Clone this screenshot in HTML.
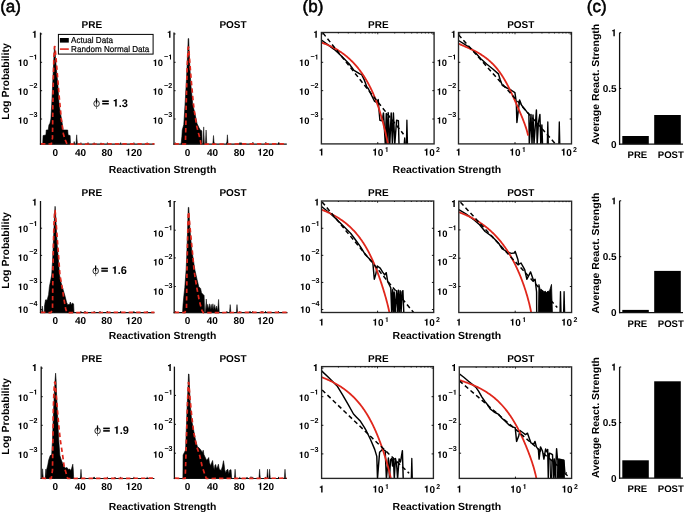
<!DOCTYPE html>
<html><head><meta charset="utf-8"><title>Reactivation Strength</title>
<style>
html,body{margin:0;padding:0;background:#fff;width:685px;height:512px;overflow:hidden}
svg{display:block;will-change:transform}
text{font-family:"Liberation Sans",sans-serif;fill:#000}
</style></head><body>
<svg width="685" height="512" viewBox="0 0 685 512" text-rendering="geometricPrecision">
<rect width="685" height="512" fill="#fff"/>
<text x="0.20" y="12.10" font-size="17.0" font-weight="normal" text-anchor="start" stroke="#000" stroke-width="0.55">(a)</text>
<text x="302.60" y="12.10" font-size="17.0" font-weight="normal" text-anchor="start" stroke="#000" stroke-width="0.55">(b)</text>
<text x="586.80" y="12.10" font-size="17.0" font-weight="normal" text-anchor="start" stroke="#000" stroke-width="0.55">(c)</text>
<text x="91.90" y="28.00" font-size="10" font-weight="bold" text-anchor="middle" >PRE</text>
<text x="233.00" y="28.00" font-size="10" font-weight="bold" text-anchor="middle" >POST</text>
<text x="378.30" y="28.00" font-size="10" font-weight="bold" text-anchor="middle" >PRE</text>
<text x="520.80" y="28.00" font-size="10" font-weight="bold" text-anchor="middle" >POST</text>
<text x="91.90" y="195.60" font-size="10" font-weight="bold" text-anchor="middle" >PRE</text>
<text x="233.00" y="195.60" font-size="10" font-weight="bold" text-anchor="middle" >POST</text>
<text x="378.30" y="195.60" font-size="10" font-weight="bold" text-anchor="middle" >PRE</text>
<text x="520.80" y="195.60" font-size="10" font-weight="bold" text-anchor="middle" >POST</text>
<text x="91.90" y="362.40" font-size="10" font-weight="bold" text-anchor="middle" >PRE</text>
<text x="233.00" y="362.40" font-size="10" font-weight="bold" text-anchor="middle" >POST</text>
<text x="378.30" y="362.40" font-size="10" font-weight="bold" text-anchor="middle" >PRE</text>
<text x="520.80" y="362.40" font-size="10" font-weight="bold" text-anchor="middle" >POST</text>
<text x="108.7" y="173.0" font-size="10.3" font-weight="bold" textLength="107.6" lengthAdjust="spacingAndGlyphs">Reactivation Strength</text>
<text x="392.6" y="173.0" font-size="10.3" font-weight="bold" textLength="108.6" lengthAdjust="spacingAndGlyphs">Reactivation Strength</text>
<text x="108.7" y="338.5" font-size="10.3" font-weight="bold" textLength="107.6" lengthAdjust="spacingAndGlyphs">Reactivation Strength</text>
<text x="392.6" y="338.5" font-size="10.3" font-weight="bold" textLength="108.6" lengthAdjust="spacingAndGlyphs">Reactivation Strength</text>
<text x="108.7" y="509.6" font-size="10.3" font-weight="bold" textLength="107.6" lengthAdjust="spacingAndGlyphs">Reactivation Strength</text>
<text x="392.6" y="509.6" font-size="10.3" font-weight="bold" textLength="108.6" lengthAdjust="spacingAndGlyphs">Reactivation Strength</text>
<text transform="translate(9.4,81.5) rotate(-90)" font-size="10.4" font-weight="bold" text-anchor="middle" textLength="76.5" lengthAdjust="spacingAndGlyphs">Log Probability</text>
<text transform="translate(598.8,84.3) rotate(-90)" font-size="10.2" font-weight="bold" text-anchor="middle" textLength="121" lengthAdjust="spacingAndGlyphs">Average React. Strength</text>
<text transform="translate(9.4,250.5) rotate(-90)" font-size="10.4" font-weight="bold" text-anchor="middle" textLength="76.5" lengthAdjust="spacingAndGlyphs">Log Probability</text>
<text transform="translate(598.8,253.0) rotate(-90)" font-size="10.2" font-weight="bold" text-anchor="middle" textLength="121" lengthAdjust="spacingAndGlyphs">Average React. Strength</text>
<text transform="translate(9.4,416.5) rotate(-90)" font-size="10.4" font-weight="bold" text-anchor="middle" textLength="76.5" lengthAdjust="spacingAndGlyphs">Log Probability</text>
<text transform="translate(598.8,417.5) rotate(-90)" font-size="10.2" font-weight="bold" text-anchor="middle" textLength="121" lengthAdjust="spacingAndGlyphs">Average React. Strength</text>
<ellipse cx="96.60" cy="103.60" rx="2.75" ry="2.95" fill="none" stroke="#222" stroke-width="0.95"/>
<line x1="96.50" y1="98.20" x2="96.50" y2="103.70" stroke="#000" stroke-width="1.25" />
<line x1="96.50" y1="103.70" x2="96.50" y2="108.90" stroke="#555" stroke-width="0.8" />
<rect x="102.20" y="100.40" width="6.6" height="1.6" fill="#000"/>
<rect x="102.20" y="102.90" width="6.6" height="1.6" fill="#000"/>
<path d="M770,0 L770,1409 L580,1409 C550,1300 490,1240 390,1210 C320,1190 250,1185 190,1185 L190,995 L478,995 L478,0 Z" transform="translate(112.60,106.50) scale(0.00537,-0.00537)" fill="#000"/>
<text x="118.72" y="106.50" font-size="11" font-weight="bold">.3</text>
<ellipse cx="95.70" cy="270.90" rx="2.75" ry="2.95" fill="none" stroke="#222" stroke-width="0.95"/>
<line x1="95.60" y1="265.50" x2="95.60" y2="271.00" stroke="#000" stroke-width="1.25" />
<line x1="95.60" y1="271.00" x2="95.60" y2="276.20" stroke="#555" stroke-width="0.8" />
<rect x="101.30" y="267.70" width="6.6" height="1.6" fill="#000"/>
<rect x="101.30" y="270.20" width="6.6" height="1.6" fill="#000"/>
<path d="M770,0 L770,1409 L580,1409 C550,1300 490,1240 390,1210 C320,1190 250,1185 190,1185 L190,995 L478,995 L478,0 Z" transform="translate(111.70,273.80) scale(0.00537,-0.00537)" fill="#000"/>
<text x="117.82" y="273.80" font-size="11" font-weight="bold">.6</text>
<ellipse cx="97.60" cy="430.80" rx="2.75" ry="2.95" fill="none" stroke="#222" stroke-width="0.95"/>
<line x1="97.50" y1="425.40" x2="97.50" y2="430.90" stroke="#000" stroke-width="1.25" />
<line x1="97.50" y1="430.90" x2="97.50" y2="436.10" stroke="#555" stroke-width="0.8" />
<rect x="103.20" y="427.60" width="6.6" height="1.6" fill="#000"/>
<rect x="103.20" y="430.10" width="6.6" height="1.6" fill="#000"/>
<path d="M770,0 L770,1409 L580,1409 C550,1300 490,1240 390,1210 C320,1190 250,1185 190,1185 L190,995 L478,995 L478,0 Z" transform="translate(113.60,433.70) scale(0.00537,-0.00537)" fill="#000"/>
<text x="119.72" y="433.70" font-size="11" font-weight="bold">.9</text>
<path d="M42.70,144.10 L43.10,135.50 L45.90,135.00 L46.25,130.00 L48.20,130.00 L49.00,124.50 L49.80,124.10 L50.90,119.00 L51.70,105.00 L52.50,88.00 L53.30,70.00 L54.00,55.00 L54.60,46.50 L55.30,55.00 L56.30,68.00 L57.90,85.00 L59.10,105.00 L60.70,114.40 L62.30,123.75 L63.00,130.00 L67.70,130.00 L68.10,135.00 L70.10,135.50 L70.50,144.10 Z" fill="#000" stroke="#000" stroke-width="0.6" stroke-linejoin="round" />
<path d="M76.00,144.10 L76.70,134.80 L77.40,144.10 Z" fill="#000" stroke="#000" stroke-width="0.5" stroke-linejoin="round" />
<path d="M73.50,144.10 L74.20,141.50 L74.90,144.10 Z" fill="#000" stroke="#000" stroke-width="0.5" stroke-linejoin="round" />
<path d="M87.30,144.10 L88.00,142.50 L88.70,144.10 Z" fill="#000" stroke="#000" stroke-width="0.5" stroke-linejoin="round" />
<path d="M100.30,144.10 L101.00,142.80 L101.70,144.10 Z" fill="#000" stroke="#000" stroke-width="0.5" stroke-linejoin="round" />
<line x1="40.50" y1="32.60" x2="40.50" y2="144.70" stroke="#111" stroke-width="1.3" />
<line x1="39.90" y1="144.10" x2="154.40" y2="144.10" stroke="#111" stroke-width="1.2" />
<line x1="40.50" y1="33.95" x2="42.10" y2="33.95" stroke="#000" stroke-width="0.9" />
<path d="M770,0 L770,1409 L580,1409 C550,1300 490,1240 390,1210 C320,1190 250,1185 190,1185 L190,995 L478,995 L478,0 Z" transform="translate(31.84,37.70) scale(0.00488,-0.00488)" fill="#000"/>
<line x1="40.50" y1="62.30" x2="42.10" y2="62.30" stroke="#000" stroke-width="0.9" />
<text x="29.19" y="59.45" font-size="7.2" font-weight="bold">&#8722;</text>
<path d="M770,0 L770,1409 L580,1409 C550,1300 490,1240 390,1210 C320,1190 250,1185 190,1185 L190,995 L478,995 L478,0 Z" transform="translate(33.40,59.45) scale(0.00352,-0.00352)" fill="#000"/>
<path d="M770,0 L770,1409 L580,1409 C550,1300 490,1240 390,1210 C320,1190 250,1185 190,1185 L190,995 L478,995 L478,0 Z" transform="translate(17.74,65.90) scale(0.00459,-0.00459)" fill="#000"/>
<text x="22.97" y="65.90" font-size="9.4" font-weight="bold">0</text>
<line x1="40.50" y1="90.70" x2="42.10" y2="90.70" stroke="#000" stroke-width="0.9" />
<text x="37.40" y="88.35" font-size="7.2" font-weight="bold" text-anchor="end" >&#8722;2</text>
<path d="M770,0 L770,1409 L580,1409 C550,1300 490,1240 390,1210 C320,1190 250,1185 190,1185 L190,995 L478,995 L478,0 Z" transform="translate(17.74,94.80) scale(0.00459,-0.00459)" fill="#000"/>
<text x="22.97" y="94.80" font-size="9.4" font-weight="bold">0</text>
<line x1="40.50" y1="119.00" x2="42.10" y2="119.00" stroke="#000" stroke-width="0.9" />
<text x="37.40" y="117.15" font-size="7.2" font-weight="bold" text-anchor="end" >&#8722;3</text>
<path d="M770,0 L770,1409 L580,1409 C550,1300 490,1240 390,1210 C320,1190 250,1185 190,1185 L190,995 L478,995 L478,0 Z" transform="translate(17.74,123.60) scale(0.00459,-0.00459)" fill="#000"/>
<text x="22.97" y="123.60" font-size="9.4" font-weight="bold">0</text>
<line x1="54.40" y1="144.10" x2="54.40" y2="142.50" stroke="#000" stroke-width="0.9" />
<line x1="67.65" y1="144.10" x2="67.65" y2="142.50" stroke="#000" stroke-width="0.9" />
<line x1="80.90" y1="144.10" x2="80.90" y2="142.50" stroke="#000" stroke-width="0.9" />
<line x1="94.15" y1="144.10" x2="94.15" y2="142.50" stroke="#000" stroke-width="0.9" />
<line x1="107.40" y1="144.10" x2="107.40" y2="142.50" stroke="#000" stroke-width="0.9" />
<line x1="120.65" y1="144.10" x2="120.65" y2="142.50" stroke="#000" stroke-width="0.9" />
<line x1="133.90" y1="144.10" x2="133.90" y2="142.50" stroke="#000" stroke-width="0.9" />
<line x1="147.15" y1="144.10" x2="147.15" y2="142.50" stroke="#000" stroke-width="0.9" />
<text x="55.20" y="155.60" font-size="10" font-weight="bold" text-anchor="middle" >0</text>
<text x="80.50" y="155.60" font-size="10" font-weight="bold" text-anchor="middle" >40</text>
<text x="107.00" y="155.60" font-size="10" font-weight="bold" text-anchor="middle" >80</text>
<path d="M770,0 L770,1409 L580,1409 C550,1300 490,1240 390,1210 C320,1190 250,1185 190,1185 L190,995 L478,995 L478,0 Z" transform="translate(125.46,155.60) scale(0.00488,-0.00488)" fill="#000"/>
<text x="131.02" y="155.60" font-size="10" font-weight="bold">20</text>
<path d="M41.00,143.80 L51.30,144.10 L52.50,137.80 L52.90,105.00 L53.30,80.00 L53.80,60.00 L54.50,46.50 L54.90,46.50 L56.20,60.00 L57.80,80.00 L59.30,98.00 L60.30,108.10 L61.10,117.50 L62.30,126.10 L63.40,133.90 L65.00,139.40 L67.00,144.10 L154.40,143.80" fill="none" stroke="#e0271c" stroke-width="1.7" stroke-dasharray="4.4 3.1" stroke-linejoin="round" />
<path d="M181.10,144.10 L181.90,136.25 L182.25,130.00 L183.80,124.50 L185.00,105.00 L186.00,88.00 L187.00,68.00 L187.80,50.00 L188.20,38.60 L188.70,38.60 L189.10,50.00 L189.80,66.00 L190.90,85.00 L192.80,105.00 L194.75,112.80 L197.10,123.75 L199.00,127.70 L200.20,130.00 L201.80,130.80 L202.20,144.10 Z" fill="#000" stroke="#000" stroke-width="0.6" stroke-linejoin="round" />
<path d="M203.00,144.10 L203.70,126.90 L204.40,144.10 Z" fill="#000" stroke="#000" stroke-width="0.5" stroke-linejoin="round" />
<path d="M205.40,144.10 L206.10,130.00 L206.80,144.10 Z" fill="#000" stroke="#000" stroke-width="0.5" stroke-linejoin="round" />
<path d="M212.80,144.10 L213.50,135.50 L214.20,144.10 Z" fill="#000" stroke="#000" stroke-width="0.5" stroke-linejoin="round" />
<path d="M226.70,144.10 L227.40,134.80 L228.10,144.10 Z" fill="#000" stroke="#000" stroke-width="0.5" stroke-linejoin="round" />
<path d="M240.30,144.10 L241.00,142.50 L241.70,144.10 Z" fill="#000" stroke="#000" stroke-width="0.5" stroke-linejoin="round" />
<path d="M252.30,144.10 L253.00,142.50 L253.70,144.10 Z" fill="#000" stroke="#000" stroke-width="0.5" stroke-linejoin="round" />
<path d="M265.30,144.10 L266.00,142.60 L266.70,144.10 Z" fill="#000" stroke="#000" stroke-width="0.5" stroke-linejoin="round" />
<path d="M278.30,144.10 L279.00,142.60 L279.70,144.10 Z" fill="#000" stroke="#000" stroke-width="0.5" stroke-linejoin="round" />
<line x1="174.00" y1="32.60" x2="174.00" y2="144.70" stroke="#111" stroke-width="1.3" />
<line x1="173.40" y1="144.10" x2="286.80" y2="144.10" stroke="#111" stroke-width="1.2" />
<line x1="174.00" y1="33.95" x2="175.60" y2="33.95" stroke="#000" stroke-width="0.9" />
<path d="M770,0 L770,1409 L580,1409 C550,1300 490,1240 390,1210 C320,1190 250,1185 190,1185 L190,995 L478,995 L478,0 Z" transform="translate(166.74,37.70) scale(0.00488,-0.00488)" fill="#000"/>
<line x1="174.00" y1="62.30" x2="175.60" y2="62.30" stroke="#000" stroke-width="0.9" />
<text x="164.09" y="59.45" font-size="7.2" font-weight="bold">&#8722;</text>
<path d="M770,0 L770,1409 L580,1409 C550,1300 490,1240 390,1210 C320,1190 250,1185 190,1185 L190,995 L478,995 L478,0 Z" transform="translate(168.30,59.45) scale(0.00352,-0.00352)" fill="#000"/>
<path d="M770,0 L770,1409 L580,1409 C550,1300 490,1240 390,1210 C320,1190 250,1185 190,1185 L190,995 L478,995 L478,0 Z" transform="translate(152.64,65.90) scale(0.00459,-0.00459)" fill="#000"/>
<text x="157.87" y="65.90" font-size="9.4" font-weight="bold">0</text>
<line x1="174.00" y1="90.70" x2="175.60" y2="90.70" stroke="#000" stroke-width="0.9" />
<text x="172.30" y="88.35" font-size="7.2" font-weight="bold" text-anchor="end" >&#8722;2</text>
<path d="M770,0 L770,1409 L580,1409 C550,1300 490,1240 390,1210 C320,1190 250,1185 190,1185 L190,995 L478,995 L478,0 Z" transform="translate(152.64,94.80) scale(0.00459,-0.00459)" fill="#000"/>
<text x="157.87" y="94.80" font-size="9.4" font-weight="bold">0</text>
<line x1="174.00" y1="119.00" x2="175.60" y2="119.00" stroke="#000" stroke-width="0.9" />
<text x="172.30" y="117.15" font-size="7.2" font-weight="bold" text-anchor="end" >&#8722;3</text>
<path d="M770,0 L770,1409 L580,1409 C550,1300 490,1240 390,1210 C320,1190 250,1185 190,1185 L190,995 L478,995 L478,0 Z" transform="translate(152.64,123.60) scale(0.00459,-0.00459)" fill="#000"/>
<text x="157.87" y="123.60" font-size="9.4" font-weight="bold">0</text>
<line x1="175.30" y1="144.10" x2="175.30" y2="142.50" stroke="#000" stroke-width="0.9" />
<line x1="188.20" y1="144.10" x2="188.20" y2="142.50" stroke="#000" stroke-width="0.9" />
<line x1="201.10" y1="144.10" x2="201.10" y2="142.50" stroke="#000" stroke-width="0.9" />
<line x1="214.00" y1="144.10" x2="214.00" y2="142.50" stroke="#000" stroke-width="0.9" />
<line x1="226.90" y1="144.10" x2="226.90" y2="142.50" stroke="#000" stroke-width="0.9" />
<line x1="239.80" y1="144.10" x2="239.80" y2="142.50" stroke="#000" stroke-width="0.9" />
<line x1="252.70" y1="144.10" x2="252.70" y2="142.50" stroke="#000" stroke-width="0.9" />
<line x1="265.60" y1="144.10" x2="265.60" y2="142.50" stroke="#000" stroke-width="0.9" />
<line x1="278.50" y1="144.10" x2="278.50" y2="142.50" stroke="#000" stroke-width="0.9" />
<text x="187.60" y="155.60" font-size="10" font-weight="bold" text-anchor="middle" >0</text>
<text x="212.60" y="155.60" font-size="10" font-weight="bold" text-anchor="middle" >40</text>
<text x="239.20" y="155.60" font-size="10" font-weight="bold" text-anchor="middle" >80</text>
<path d="M770,0 L770,1409 L580,1409 C550,1300 490,1240 390,1210 C320,1190 250,1185 190,1185 L190,995 L478,995 L478,0 Z" transform="translate(257.26,155.60) scale(0.00488,-0.00488)" fill="#000"/>
<text x="262.82" y="155.60" font-size="10" font-weight="bold">20</text>
<path d="M174.50,143.80 L185.40,144.10 L185.80,128.40 L186.20,105.00 L186.70,85.00 L187.30,65.00 L188.20,47.00 L188.60,47.00 L189.80,62.00 L191.20,80.00 L192.80,98.00 L194.00,108.90 L195.50,118.30 L196.70,126.10 L198.70,133.90 L200.20,139.40 L201.00,144.10 L286.80,143.80" fill="none" stroke="#e0271c" stroke-width="1.7" stroke-dasharray="4.4 3.1" stroke-linejoin="round" />
<path d="M44.30,312.60 L44.50,306.00 L44.70,304.70 L45.50,300.00 L46.20,299.60 L46.60,301.00 L47.40,299.20 L48.60,294.50 L49.40,286.70 L50.20,282.80 L51.70,275.00 L52.60,260.00 L53.30,245.00 L53.90,230.00 L54.50,216.00 L55.10,206.30 L55.70,216.00 L56.40,230.00 L57.20,245.00 L58.30,258.00 L59.50,275.00 L61.10,282.80 L63.40,290.60 L65.00,296.10 L66.60,302.30 L67.70,304.70 L69.70,304.30 L70.30,302.00 L71.25,304.70 L72.50,303.00 L73.60,303.90 L74.00,312.60 Z" fill="#000" stroke="#000" stroke-width="0.6" stroke-linejoin="round" />
<path d="M41.60,312.60 L42.30,306.00 L43.00,312.60 Z" fill="#000" stroke="#000" stroke-width="0.5" stroke-linejoin="round" />
<path d="M84.30,312.60 L85.00,311.00 L85.70,312.60 Z" fill="#000" stroke="#000" stroke-width="0.5" stroke-linejoin="round" />
<path d="M99.30,312.60 L100.00,311.20 L100.70,312.60 Z" fill="#000" stroke="#000" stroke-width="0.5" stroke-linejoin="round" />
<line x1="40.50" y1="201.00" x2="40.50" y2="313.20" stroke="#111" stroke-width="1.3" />
<line x1="39.90" y1="312.60" x2="154.40" y2="312.60" stroke="#111" stroke-width="1.2" />
<path d="M770,0 L770,1409 L580,1409 C550,1300 490,1240 390,1210 C320,1190 250,1185 190,1185 L190,995 L478,995 L478,0 Z" transform="translate(31.84,205.60) scale(0.00488,-0.00488)" fill="#000"/>
<line x1="40.50" y1="228.20" x2="42.10" y2="228.20" stroke="#000" stroke-width="0.9" />
<text x="29.19" y="225.95" font-size="7.2" font-weight="bold">&#8722;</text>
<path d="M770,0 L770,1409 L580,1409 C550,1300 490,1240 390,1210 C320,1190 250,1185 190,1185 L190,995 L478,995 L478,0 Z" transform="translate(33.40,225.95) scale(0.00352,-0.00352)" fill="#000"/>
<path d="M770,0 L770,1409 L580,1409 C550,1300 490,1240 390,1210 C320,1190 250,1185 190,1185 L190,995 L478,995 L478,0 Z" transform="translate(17.74,232.40) scale(0.00459,-0.00459)" fill="#000"/>
<text x="22.97" y="232.40" font-size="9.4" font-weight="bold">0</text>
<line x1="40.50" y1="255.40" x2="42.10" y2="255.40" stroke="#000" stroke-width="0.9" />
<text x="37.40" y="254.25" font-size="7.2" font-weight="bold" text-anchor="end" >&#8722;2</text>
<path d="M770,0 L770,1409 L580,1409 C550,1300 490,1240 390,1210 C320,1190 250,1185 190,1185 L190,995 L478,995 L478,0 Z" transform="translate(17.74,260.70) scale(0.00459,-0.00459)" fill="#000"/>
<text x="22.97" y="260.70" font-size="9.4" font-weight="bold">0</text>
<line x1="40.50" y1="282.40" x2="42.10" y2="282.40" stroke="#000" stroke-width="0.9" />
<text x="37.40" y="283.45" font-size="7.2" font-weight="bold" text-anchor="end" >&#8722;3</text>
<path d="M770,0 L770,1409 L580,1409 C550,1300 490,1240 390,1210 C320,1190 250,1185 190,1185 L190,995 L478,995 L478,0 Z" transform="translate(17.74,289.90) scale(0.00459,-0.00459)" fill="#000"/>
<text x="22.97" y="289.90" font-size="9.4" font-weight="bold">0</text>
<line x1="40.50" y1="309.50" x2="42.10" y2="309.50" stroke="#000" stroke-width="0.9" />
<text x="37.40" y="306.35" font-size="7.2" font-weight="bold" text-anchor="end" >&#8722;4</text>
<path d="M770,0 L770,1409 L580,1409 C550,1300 490,1240 390,1210 C320,1190 250,1185 190,1185 L190,995 L478,995 L478,0 Z" transform="translate(17.74,312.80) scale(0.00459,-0.00459)" fill="#000"/>
<text x="22.97" y="312.80" font-size="9.4" font-weight="bold">0</text>
<line x1="54.40" y1="312.60" x2="54.40" y2="311.00" stroke="#000" stroke-width="0.9" />
<line x1="67.65" y1="312.60" x2="67.65" y2="311.00" stroke="#000" stroke-width="0.9" />
<line x1="80.90" y1="312.60" x2="80.90" y2="311.00" stroke="#000" stroke-width="0.9" />
<line x1="94.15" y1="312.60" x2="94.15" y2="311.00" stroke="#000" stroke-width="0.9" />
<line x1="107.40" y1="312.60" x2="107.40" y2="311.00" stroke="#000" stroke-width="0.9" />
<line x1="120.65" y1="312.60" x2="120.65" y2="311.00" stroke="#000" stroke-width="0.9" />
<line x1="133.90" y1="312.60" x2="133.90" y2="311.00" stroke="#000" stroke-width="0.9" />
<line x1="147.15" y1="312.60" x2="147.15" y2="311.00" stroke="#000" stroke-width="0.9" />
<text x="55.20" y="324.20" font-size="10" font-weight="bold" text-anchor="middle" >0</text>
<text x="80.50" y="324.20" font-size="10" font-weight="bold" text-anchor="middle" >40</text>
<text x="106.80" y="324.20" font-size="10" font-weight="bold" text-anchor="middle" >80</text>
<path d="M770,0 L770,1409 L580,1409 C550,1300 490,1240 390,1210 C320,1190 250,1185 190,1185 L190,995 L478,995 L478,0 Z" transform="translate(125.66,324.20) scale(0.00488,-0.00488)" fill="#000"/>
<text x="131.22" y="324.20" font-size="10" font-weight="bold">20</text>
<path d="M41.00,312.30 L50.90,312.60 L52.50,309.40 L52.90,275.00 L53.30,250.00 L53.80,230.00 L54.30,218.00 L54.70,210.50 L55.10,210.50 L56.20,224.00 L57.50,242.00 L58.70,258.00 L59.90,275.00 L62.30,288.30 L63.80,298.40 L65.80,309.40 L67.00,312.60 L154.40,312.30" fill="none" stroke="#e0271c" stroke-width="1.7" stroke-dasharray="4.4 3.1" stroke-linejoin="round" />
<path d="M182.60,312.60 L183.00,305.10 L183.90,295.50 L184.80,287.60 L186.10,270.00 L186.80,255.00 L187.30,240.00 L187.80,222.00 L188.30,207.40 L188.80,207.40 L189.20,216.00 L190.00,230.00 L191.80,250.00 L194.90,270.00 L197.10,279.70 L198.80,286.70 L200.60,288.50 L201.50,292.80 L204.10,295.50 L204.60,312.60 Z" fill="#000" stroke="#000" stroke-width="0.6" stroke-linejoin="round" />
<path d="M205.30,312.60 L206.30,299.00 L206.90,309.00 L207.60,304.30 L208.50,309.00 L209.40,303.80 L210.20,309.50 L211.10,304.30 L212.00,309.00 L212.90,303.80 L213.80,309.50 L214.70,304.70 L215.60,310.00 L216.60,306.00 L217.60,311.00 L218.60,299.40 L219.30,312.60 Z" fill="#000" stroke="#000" stroke-width="0.5" stroke-linejoin="round" />
<path d="M229.50,312.60 L230.20,304.60 L230.90,312.60 Z" fill="#000" stroke="#000" stroke-width="0.5" stroke-linejoin="round" />
<path d="M236.30,312.60 L237.00,304.60 L237.70,312.60 Z" fill="#000" stroke="#000" stroke-width="0.5" stroke-linejoin="round" />
<path d="M249.30,312.60 L250.00,311.00 L250.70,312.60 Z" fill="#000" stroke="#000" stroke-width="0.5" stroke-linejoin="round" />
<path d="M261.30,312.60 L262.00,311.00 L262.70,312.60 Z" fill="#000" stroke="#000" stroke-width="0.5" stroke-linejoin="round" />
<line x1="174.20" y1="201.00" x2="174.20" y2="313.20" stroke="#111" stroke-width="1.3" />
<line x1="173.60" y1="312.60" x2="287.50" y2="312.60" stroke="#111" stroke-width="1.2" />
<line x1="174.20" y1="201.60" x2="175.80" y2="201.60" stroke="#000" stroke-width="0.9" />
<path d="M770,0 L770,1409 L580,1409 C550,1300 490,1240 390,1210 C320,1190 250,1185 190,1185 L190,995 L478,995 L478,0 Z" transform="translate(167.04,207.00) scale(0.00488,-0.00488)" fill="#000"/>
<line x1="174.20" y1="230.20" x2="175.80" y2="230.20" stroke="#000" stroke-width="0.9" />
<text x="164.39" y="230.15" font-size="7.2" font-weight="bold">&#8722;</text>
<path d="M770,0 L770,1409 L580,1409 C550,1300 490,1240 390,1210 C320,1190 250,1185 190,1185 L190,995 L478,995 L478,0 Z" transform="translate(168.60,230.15) scale(0.00352,-0.00352)" fill="#000"/>
<path d="M770,0 L770,1409 L580,1409 C550,1300 490,1240 390,1210 C320,1190 250,1185 190,1185 L190,995 L478,995 L478,0 Z" transform="translate(152.94,236.60) scale(0.00459,-0.00459)" fill="#000"/>
<text x="158.17" y="236.60" font-size="9.4" font-weight="bold">0</text>
<line x1="174.20" y1="257.90" x2="175.80" y2="257.90" stroke="#000" stroke-width="0.9" />
<text x="172.60" y="258.95" font-size="7.2" font-weight="bold" text-anchor="end" >&#8722;2</text>
<path d="M770,0 L770,1409 L580,1409 C550,1300 490,1240 390,1210 C320,1190 250,1185 190,1185 L190,995 L478,995 L478,0 Z" transform="translate(152.94,265.40) scale(0.00459,-0.00459)" fill="#000"/>
<text x="158.17" y="265.40" font-size="9.4" font-weight="bold">0</text>
<line x1="174.20" y1="286.50" x2="175.80" y2="286.50" stroke="#000" stroke-width="0.9" />
<text x="172.60" y="288.25" font-size="7.2" font-weight="bold" text-anchor="end" >&#8722;3</text>
<path d="M770,0 L770,1409 L580,1409 C550,1300 490,1240 390,1210 C320,1190 250,1185 190,1185 L190,995 L478,995 L478,0 Z" transform="translate(152.94,294.70) scale(0.00459,-0.00459)" fill="#000"/>
<text x="158.17" y="294.70" font-size="9.4" font-weight="bold">0</text>
<line x1="175.30" y1="312.60" x2="175.30" y2="311.00" stroke="#000" stroke-width="0.9" />
<line x1="188.20" y1="312.60" x2="188.20" y2="311.00" stroke="#000" stroke-width="0.9" />
<line x1="201.10" y1="312.60" x2="201.10" y2="311.00" stroke="#000" stroke-width="0.9" />
<line x1="214.00" y1="312.60" x2="214.00" y2="311.00" stroke="#000" stroke-width="0.9" />
<line x1="226.90" y1="312.60" x2="226.90" y2="311.00" stroke="#000" stroke-width="0.9" />
<line x1="239.80" y1="312.60" x2="239.80" y2="311.00" stroke="#000" stroke-width="0.9" />
<line x1="252.70" y1="312.60" x2="252.70" y2="311.00" stroke="#000" stroke-width="0.9" />
<line x1="265.60" y1="312.60" x2="265.60" y2="311.00" stroke="#000" stroke-width="0.9" />
<line x1="278.50" y1="312.60" x2="278.50" y2="311.00" stroke="#000" stroke-width="0.9" />
<text x="187.50" y="324.20" font-size="10" font-weight="bold" text-anchor="middle" >0</text>
<text x="212.30" y="324.20" font-size="10" font-weight="bold" text-anchor="middle" >40</text>
<text x="239.00" y="324.20" font-size="10" font-weight="bold" text-anchor="middle" >80</text>
<path d="M770,0 L770,1409 L580,1409 C550,1300 490,1240 390,1210 C320,1190 250,1185 190,1185 L190,995 L478,995 L478,0 Z" transform="translate(257.06,324.20) scale(0.00488,-0.00488)" fill="#000"/>
<text x="262.62" y="324.20" font-size="10" font-weight="bold">20</text>
<path d="M174.70,312.30 L184.80,312.60 L186.50,308.70 L187.00,270.00 L187.40,250.00 L187.80,230.00 L188.30,212.00 L188.70,212.00 L189.80,225.00 L191.40,242.00 L193.00,258.00 L194.00,270.00 L195.30,278.80 L197.10,289.30 L199.30,300.80 L201.90,310.40 L203.20,312.60 L287.50,312.30" fill="none" stroke="#e0271c" stroke-width="1.7" stroke-dasharray="4.4 3.1" stroke-linejoin="round" />
<path d="M45.50,478.50 L46.25,474.40 L46.60,469.70 L47.80,465.00 L48.60,460.30 L50.20,455.60 L51.70,454.80 L52.50,440.00 L53.20,420.00 L53.80,405.00 L54.40,392.00 L55.10,380.00 L55.60,373.20 L56.10,380.00 L56.60,395.00 L57.30,410.00 L58.00,425.00 L58.75,440.00 L59.90,455.60 L61.30,460.00 L62.70,463.40 L63.80,466.60 L65.50,468.00 L67.00,467.50 L68.50,469.50 L69.70,469.00 L70.60,470.50 L71.60,468.50 L72.30,466.00 L72.80,464.20 L73.30,470.00 L73.60,476.70 L74.00,478.50 Z" fill="#000" stroke="#000" stroke-width="0.6" stroke-linejoin="round" />
<path d="M41.90,478.50 L42.60,468.80 L43.30,478.50 Z" fill="#000" stroke="#000" stroke-width="0.5" stroke-linejoin="round" />
<path d="M45.20,478.50 L45.90,469.00 L46.60,478.50 Z" fill="#000" stroke="#000" stroke-width="0.5" stroke-linejoin="round" />
<path d="M80.30,478.50 L81.00,469.30 L81.70,478.50 Z" fill="#000" stroke="#000" stroke-width="0.5" stroke-linejoin="round" />
<path d="M93.30,478.50 L94.00,477.00 L94.70,478.50 Z" fill="#000" stroke="#000" stroke-width="0.5" stroke-linejoin="round" />
<path d="M114.30,478.50 L115.00,477.00 L115.70,478.50 Z" fill="#000" stroke="#000" stroke-width="0.5" stroke-linejoin="round" />
<line x1="41.20" y1="366.60" x2="41.20" y2="479.10" stroke="#111" stroke-width="1.3" />
<line x1="40.60" y1="478.50" x2="154.40" y2="478.50" stroke="#111" stroke-width="1.2" />
<line x1="41.20" y1="368.10" x2="42.80" y2="368.10" stroke="#000" stroke-width="0.9" />
<path d="M770,0 L770,1409 L580,1409 C550,1300 490,1240 390,1210 C320,1190 250,1185 190,1185 L190,995 L478,995 L478,0 Z" transform="translate(31.84,371.00) scale(0.00488,-0.00488)" fill="#000"/>
<line x1="41.20" y1="396.70" x2="42.80" y2="396.70" stroke="#000" stroke-width="0.9" />
<text x="29.19" y="394.55" font-size="7.2" font-weight="bold">&#8722;</text>
<path d="M770,0 L770,1409 L580,1409 C550,1300 490,1240 390,1210 C320,1190 250,1185 190,1185 L190,995 L478,995 L478,0 Z" transform="translate(33.40,394.55) scale(0.00352,-0.00352)" fill="#000"/>
<path d="M770,0 L770,1409 L580,1409 C550,1300 490,1240 390,1210 C320,1190 250,1185 190,1185 L190,995 L478,995 L478,0 Z" transform="translate(17.74,401.00) scale(0.00459,-0.00459)" fill="#000"/>
<text x="22.97" y="401.00" font-size="9.4" font-weight="bold">0</text>
<line x1="41.20" y1="425.30" x2="42.80" y2="425.30" stroke="#000" stroke-width="0.9" />
<text x="37.40" y="422.85" font-size="7.2" font-weight="bold" text-anchor="end" >&#8722;2</text>
<path d="M770,0 L770,1409 L580,1409 C550,1300 490,1240 390,1210 C320,1190 250,1185 190,1185 L190,995 L478,995 L478,0 Z" transform="translate(17.74,429.30) scale(0.00459,-0.00459)" fill="#000"/>
<text x="22.97" y="429.30" font-size="9.4" font-weight="bold">0</text>
<line x1="41.20" y1="453.90" x2="42.80" y2="453.90" stroke="#000" stroke-width="0.9" />
<text x="37.40" y="451.65" font-size="7.2" font-weight="bold" text-anchor="end" >&#8722;3</text>
<path d="M770,0 L770,1409 L580,1409 C550,1300 490,1240 390,1210 C320,1190 250,1185 190,1185 L190,995 L478,995 L478,0 Z" transform="translate(17.74,458.10) scale(0.00459,-0.00459)" fill="#000"/>
<text x="22.97" y="458.10" font-size="9.4" font-weight="bold">0</text>
<line x1="54.40" y1="478.50" x2="54.40" y2="476.90" stroke="#000" stroke-width="0.9" />
<line x1="67.65" y1="478.50" x2="67.65" y2="476.90" stroke="#000" stroke-width="0.9" />
<line x1="80.90" y1="478.50" x2="80.90" y2="476.90" stroke="#000" stroke-width="0.9" />
<line x1="94.15" y1="478.50" x2="94.15" y2="476.90" stroke="#000" stroke-width="0.9" />
<line x1="107.40" y1="478.50" x2="107.40" y2="476.90" stroke="#000" stroke-width="0.9" />
<line x1="120.65" y1="478.50" x2="120.65" y2="476.90" stroke="#000" stroke-width="0.9" />
<line x1="133.90" y1="478.50" x2="133.90" y2="476.90" stroke="#000" stroke-width="0.9" />
<line x1="147.15" y1="478.50" x2="147.15" y2="476.90" stroke="#000" stroke-width="0.9" />
<text x="55.30" y="489.70" font-size="10" font-weight="bold" text-anchor="middle" >0</text>
<text x="80.30" y="489.70" font-size="10" font-weight="bold" text-anchor="middle" >40</text>
<text x="106.80" y="489.70" font-size="10" font-weight="bold" text-anchor="middle" >80</text>
<path d="M770,0 L770,1409 L580,1409 C550,1300 490,1240 390,1210 C320,1190 250,1185 190,1185 L190,995 L478,995 L478,0 Z" transform="translate(125.66,489.70) scale(0.00488,-0.00488)" fill="#000"/>
<text x="131.22" y="489.70" font-size="10" font-weight="bold">20</text>
<path d="M41.70,478.20 L51.30,478.50 L52.50,470.00 L52.90,440.00 L53.30,410.00 L53.90,392.00 L54.70,382.00 L55.10,382.00 L56.20,395.00 L57.60,412.00 L59.00,428.00 L60.30,440.00 L62.70,455.60 L64.20,466.60 L67.70,478.50 L154.40,478.20" fill="none" stroke="#e0271c" stroke-width="1.7" stroke-dasharray="4.4 3.1" stroke-linejoin="round" />
<path d="M182.90,478.50 L183.10,455.00 L184.20,452.80 L185.60,450.00 L186.30,430.00 L187.20,405.00 L187.90,390.00 L188.50,374.00 L189.00,374.00 L189.60,390.00 L190.30,405.00 L191.60,420.00 L193.90,431.50 L195.50,440.00 L197.40,446.40 L199.70,448.60 L201.50,451.00 L202.50,452.50 L203.20,450.20 L203.90,454.50 L205.50,458.00 L206.70,460.30 L207.80,459.00 L208.70,457.50 L209.40,462.50 L210.60,465.80 L211.60,463.00 L212.60,460.50 L213.30,466.00 L214.30,470.00 L215.00,465.00 L215.70,464.60 L216.50,468.50 L217.50,467.00 L218.40,464.20 L219.20,469.00 L220.00,469.70 L221.20,470.50 L222.50,466.00 L223.50,460.70 L224.30,466.00 L224.70,469.70 L225.80,473.00 L226.80,470.00 L227.80,469.30 L228.80,474.00 L229.80,470.00 L231.00,469.70 L231.70,478.50 Z" fill="#000" stroke="#000" stroke-width="0.6" stroke-linejoin="round" />
<path d="M234.40,478.50 L235.10,469.20 L235.80,478.50 Z" fill="#000" stroke="#000" stroke-width="0.5" stroke-linejoin="round" />
<path d="M258.90,478.50 L259.60,469.20 L260.30,478.50 Z" fill="#000" stroke="#000" stroke-width="0.5" stroke-linejoin="round" />
<path d="M266.80,478.50 L267.50,469.20 L268.20,478.50 Z" fill="#000" stroke="#000" stroke-width="0.5" stroke-linejoin="round" />
<path d="M268.90,478.50 L269.60,469.20 L270.30,478.50 Z" fill="#000" stroke="#000" stroke-width="0.5" stroke-linejoin="round" />
<path d="M284.30,478.50 L285.00,469.20 L285.70,478.50 Z" fill="#000" stroke="#000" stroke-width="0.5" stroke-linejoin="round" />
<path d="M246.30,478.50 L247.00,477.00 L247.70,478.50 Z" fill="#000" stroke="#000" stroke-width="0.5" stroke-linejoin="round" />
<path d="M250.30,478.50 L251.00,476.60 L251.70,478.50 Z" fill="#000" stroke="#000" stroke-width="0.5" stroke-linejoin="round" />
<line x1="174.40" y1="366.60" x2="174.40" y2="479.10" stroke="#111" stroke-width="1.3" />
<line x1="173.80" y1="478.50" x2="287.00" y2="478.50" stroke="#111" stroke-width="1.2" />
<path d="M770,0 L770,1409 L580,1409 C550,1300 490,1240 390,1210 C320,1190 250,1185 190,1185 L190,995 L478,995 L478,0 Z" transform="translate(167.04,371.00) scale(0.00488,-0.00488)" fill="#000"/>
<line x1="174.40" y1="395.40" x2="176.00" y2="395.40" stroke="#000" stroke-width="0.9" />
<text x="164.39" y="394.65" font-size="7.2" font-weight="bold">&#8722;</text>
<path d="M770,0 L770,1409 L580,1409 C550,1300 490,1240 390,1210 C320,1190 250,1185 190,1185 L190,995 L478,995 L478,0 Z" transform="translate(168.60,394.65) scale(0.00352,-0.00352)" fill="#000"/>
<path d="M770,0 L770,1409 L580,1409 C550,1300 490,1240 390,1210 C320,1190 250,1185 190,1185 L190,995 L478,995 L478,0 Z" transform="translate(152.94,401.10) scale(0.00459,-0.00459)" fill="#000"/>
<text x="158.17" y="401.10" font-size="9.4" font-weight="bold">0</text>
<line x1="174.40" y1="424.30" x2="176.00" y2="424.30" stroke="#000" stroke-width="0.9" />
<text x="172.60" y="423.05" font-size="7.2" font-weight="bold" text-anchor="end" >&#8722;2</text>
<path d="M770,0 L770,1409 L580,1409 C550,1300 490,1240 390,1210 C320,1190 250,1185 190,1185 L190,995 L478,995 L478,0 Z" transform="translate(152.94,429.50) scale(0.00459,-0.00459)" fill="#000"/>
<text x="158.17" y="429.50" font-size="9.4" font-weight="bold">0</text>
<line x1="174.40" y1="453.20" x2="176.00" y2="453.20" stroke="#000" stroke-width="0.9" />
<text x="172.60" y="451.25" font-size="7.2" font-weight="bold" text-anchor="end" >&#8722;3</text>
<path d="M770,0 L770,1409 L580,1409 C550,1300 490,1240 390,1210 C320,1190 250,1185 190,1185 L190,995 L478,995 L478,0 Z" transform="translate(152.94,457.70) scale(0.00459,-0.00459)" fill="#000"/>
<text x="158.17" y="457.70" font-size="9.4" font-weight="bold">0</text>
<line x1="188.20" y1="478.50" x2="188.20" y2="476.90" stroke="#000" stroke-width="0.9" />
<line x1="201.10" y1="478.50" x2="201.10" y2="476.90" stroke="#000" stroke-width="0.9" />
<line x1="214.00" y1="478.50" x2="214.00" y2="476.90" stroke="#000" stroke-width="0.9" />
<line x1="226.90" y1="478.50" x2="226.90" y2="476.90" stroke="#000" stroke-width="0.9" />
<line x1="239.80" y1="478.50" x2="239.80" y2="476.90" stroke="#000" stroke-width="0.9" />
<line x1="252.70" y1="478.50" x2="252.70" y2="476.90" stroke="#000" stroke-width="0.9" />
<line x1="265.60" y1="478.50" x2="265.60" y2="476.90" stroke="#000" stroke-width="0.9" />
<line x1="278.50" y1="478.50" x2="278.50" y2="476.90" stroke="#000" stroke-width="0.9" />
<text x="187.60" y="489.70" font-size="10" font-weight="bold" text-anchor="middle" >0</text>
<text x="212.50" y="489.70" font-size="10" font-weight="bold" text-anchor="middle" >40</text>
<text x="239.20" y="489.70" font-size="10" font-weight="bold" text-anchor="middle" >80</text>
<path d="M770,0 L770,1409 L580,1409 C550,1300 490,1240 390,1210 C320,1190 250,1185 190,1185 L190,995 L478,995 L478,0 Z" transform="translate(257.46,489.70) scale(0.00488,-0.00488)" fill="#000"/>
<text x="263.02" y="489.70" font-size="10" font-weight="bold">20</text>
<path d="M174.90,478.20 L185.20,478.50 L185.80,460.00 L186.40,440.00 L187.00,420.00 L187.60,400.00 L188.40,382.50 L188.80,382.50 L190.00,398.00 L191.60,415.00 L193.60,432.00 L196.60,446.25 L199.70,455.60 L202.00,465.80 L204.80,474.40 L206.30,478.50 L287.00,478.20" fill="none" stroke="#e0271c" stroke-width="1.7" stroke-dasharray="4.4 3.1" stroke-linejoin="round" />
<rect x="58.4" y="34.4" width="94.7" height="19.7" fill="#fff" stroke="#000" stroke-width="1"/>
<rect x="59.9" y="38.0" width="8.9" height="4.6" fill="#000"/>
<line x1="59.90" y1="49.10" x2="68.80" y2="49.10" stroke="#e0271c" stroke-width="1.6" />
<text x="71.1" y="43.3" font-size="8.6" font-weight="normal" stroke="#000" stroke-width="0.2" textLength="41.8" lengthAdjust="spacingAndGlyphs">Actual Data</text>
<text x="71.1" y="51.5" font-size="8.6" font-weight="normal" stroke="#000" stroke-width="0.2" textLength="78.2" lengthAdjust="spacingAndGlyphs">Random Normal Data</text>
<g>
<clipPath id="clipb282"><rect x="321.40" y="32.50" width="112.70" height="111.40"/></clipPath>
<g clip-path="url(#clipb282)">
<path d="M321.40,40.00 L327.00,44.10 L334.10,49.30 L338.75,53.40 L343.40,58.10 L349.30,64.00 L354.00,70.40 L359.80,73.90 L361.60,74.50 L364.50,80.40 L366.60,86.30 L368.50,89.00 L370.50,93.20 L374.60,101.40 L377.00,102.60 L378.20,99.60 L378.75,107.30 L379.90,120.20 L382.30,120.70 L383.40,113.10 L383.50,113.00 L385.30,143.90 L386.30,113.50 L387.40,143.90 L388.20,112.60 L389.80,143.90 L391.20,113.00 L392.40,143.90 L393.40,113.00 L394.80,143.90 L396.60,120.20 L398.40,120.70 L399.00,143.90" fill="none" stroke="#000" stroke-width="1.45" stroke-linejoin="round" />
<path d="M404.20,143.90 L404.70,137.80 L405.30,143.90" fill="none" stroke="#000" stroke-width="1.3" stroke-linejoin="round" />
<path d="M406.40,143.90 L406.90,120.20 L407.50,143.90" fill="none" stroke="#000" stroke-width="1.3" stroke-linejoin="round" />
<path d="M386.80,143.90 L387.60,122.00 L388.10,143.90" fill="none" stroke="#000" stroke-width="1.3" stroke-linejoin="round" />
<path d="M321.22,42.54 L322.20,42.86 L323.18,43.20 L324.15,43.54 L325.11,43.90 L326.06,44.27 L327.01,44.65 L327.95,45.04 L328.88,45.45 L329.81,45.86 L330.73,46.29 L331.64,46.73 L332.54,47.18 L333.44,47.64 L334.33,48.11 L335.21,48.60 L336.08,49.09 L336.95,49.60 L337.81,50.12 L338.66,50.65 L339.50,51.19 L340.34,51.74 L341.16,52.30 L341.98,52.87 L342.79,53.45 L343.59,54.05 L344.39,54.65 L345.17,55.27 L345.95,55.89 L346.72,56.53 L347.48,57.17 L348.24,57.83 L348.98,58.49 L349.72,59.16 L350.45,59.85 L351.17,60.54 L351.88,61.24 L352.58,61.95 L353.28,62.67 L353.96,63.40 L354.64,64.13 L355.31,64.88 L355.97,65.63 L356.62,66.39 L357.27,67.16 L357.90,67.94 L358.53,68.72 L359.15,69.51 L359.76,70.31 L360.37,71.12 L360.96,71.93 L361.55,72.75 L362.13,73.57 L362.70,74.40 L363.26,75.24 L363.82,76.08 L364.36,76.93 L364.90,77.79 L365.43,78.65 L365.96,79.51 L366.47,80.38 L366.98,81.25 L367.48,82.13 L367.97,83.02 L368.45,83.90 L368.93,84.80 L369.40,85.69 L369.86,86.59 L370.32,87.50 L370.77,88.40 L371.21,89.31 L371.64,90.23 L372.07,91.14 L372.49,92.06 L372.90,92.98 L373.31,93.91 L373.71,94.83 L374.10,95.76 L374.49,96.69 L374.87,97.63 L375.25,98.56 L375.61,99.50 L375.98,100.44 L376.33,101.38 L376.68,102.32 L377.03,103.27 L377.37,104.21 L377.70,105.16 L378.03,106.10 L378.35,107.05 L378.67,108.00 L378.98,108.95 L379.29,109.90 L379.59,110.85 L379.89,111.81 L380.19,112.76 L380.48,113.71 L380.76,114.67 L381.04,115.63 L381.32,116.58 L381.59,117.54 L381.86,118.50 L382.13,119.46 L382.39,120.42 L382.65,121.38 L382.91,122.34 L383.16,123.30 L383.41,124.26 L383.66,125.23 L383.90,126.20 L384.14,127.16 L384.38,128.13 L384.62,129.10 L384.86,130.07 L385.09,131.05 L385.32,132.02 L385.56,133.00 L385.79,133.98 L386.01,134.96 L386.24,135.95 L386.47,136.94 L386.70,137.93 L386.92,138.92 L387.15,139.92 L387.37,140.92 L387.60,141.93 L387.82,142.94 L388.05,143.95" fill="none" stroke="#e0271c" stroke-width="1.8" stroke-linejoin="round" />
<path d="M322.90,32.90 L403.50,134.20" fill="none" stroke="#000" stroke-width="1.5" stroke-dasharray="4.4 3.0" stroke-linejoin="round" />
</g>
<rect x="321.40" y="32.50" width="112.70" height="111.40" fill="none" stroke="#262626" stroke-width="1.35"/>
<line x1="338.36" y1="32.50" x2="338.36" y2="33.50" stroke="#000" stroke-width="0.8" />
<line x1="348.29" y1="32.50" x2="348.29" y2="33.50" stroke="#000" stroke-width="0.8" />
<line x1="355.33" y1="32.50" x2="355.33" y2="33.50" stroke="#000" stroke-width="0.8" />
<line x1="360.79" y1="32.50" x2="360.79" y2="33.50" stroke="#000" stroke-width="0.8" />
<line x1="365.25" y1="32.50" x2="365.25" y2="33.50" stroke="#000" stroke-width="0.8" />
<line x1="369.02" y1="32.50" x2="369.02" y2="33.50" stroke="#000" stroke-width="0.8" />
<line x1="372.29" y1="32.50" x2="372.29" y2="33.50" stroke="#000" stroke-width="0.8" />
<line x1="375.17" y1="32.50" x2="375.17" y2="33.50" stroke="#000" stroke-width="0.8" />
<line x1="377.75" y1="143.90" x2="377.75" y2="142.10" stroke="#000" stroke-width="0.9" />
<line x1="377.75" y1="32.50" x2="377.75" y2="34.30" stroke="#000" stroke-width="0.8" />
<line x1="394.71" y1="32.50" x2="394.71" y2="33.50" stroke="#000" stroke-width="0.8" />
<line x1="404.64" y1="32.50" x2="404.64" y2="33.50" stroke="#000" stroke-width="0.8" />
<line x1="411.68" y1="32.50" x2="411.68" y2="33.50" stroke="#000" stroke-width="0.8" />
<line x1="417.14" y1="32.50" x2="417.14" y2="33.50" stroke="#000" stroke-width="0.8" />
<line x1="421.60" y1="32.50" x2="421.60" y2="33.50" stroke="#000" stroke-width="0.8" />
<line x1="425.37" y1="32.50" x2="425.37" y2="33.50" stroke="#000" stroke-width="0.8" />
<line x1="428.64" y1="32.50" x2="428.64" y2="33.50" stroke="#000" stroke-width="0.8" />
<line x1="431.52" y1="32.50" x2="431.52" y2="33.50" stroke="#000" stroke-width="0.8" />
<line x1="321.40" y1="33.95" x2="323.20" y2="33.95" stroke="#000" stroke-width="0.9" />
<line x1="434.10" y1="33.95" x2="432.30" y2="33.95" stroke="#000" stroke-width="0.9" />
<line x1="321.40" y1="62.30" x2="323.20" y2="62.30" stroke="#000" stroke-width="0.9" />
<line x1="434.10" y1="62.30" x2="432.30" y2="62.30" stroke="#000" stroke-width="0.9" />
<line x1="321.40" y1="90.65" x2="323.20" y2="90.65" stroke="#000" stroke-width="0.9" />
<line x1="434.10" y1="90.65" x2="432.30" y2="90.65" stroke="#000" stroke-width="0.9" />
<line x1="321.40" y1="119.00" x2="323.20" y2="119.00" stroke="#000" stroke-width="0.9" />
<line x1="434.10" y1="119.00" x2="432.30" y2="119.00" stroke="#000" stroke-width="0.9" />
<path d="M770,0 L770,1409 L580,1409 C550,1300 490,1240 390,1210 C320,1190 250,1185 190,1185 L190,995 L478,995 L478,0 Z" transform="translate(313.04,37.70) scale(0.00488,-0.00488)" fill="#000"/>
<text x="310.39" y="59.45" font-size="7.2" font-weight="bold">&#8722;</text>
<path d="M770,0 L770,1409 L580,1409 C550,1300 490,1240 390,1210 C320,1190 250,1185 190,1185 L190,995 L478,995 L478,0 Z" transform="translate(314.60,59.45) scale(0.00352,-0.00352)" fill="#000"/>
<path d="M770,0 L770,1409 L580,1409 C550,1300 490,1240 390,1210 C320,1190 250,1185 190,1185 L190,995 L478,995 L478,0 Z" transform="translate(298.94,65.90) scale(0.00459,-0.00459)" fill="#000"/>
<text x="304.17" y="65.90" font-size="9.4" font-weight="bold">0</text>
<text x="318.60" y="88.35" font-size="7.2" font-weight="bold" text-anchor="end" >&#8722;2</text>
<path d="M770,0 L770,1409 L580,1409 C550,1300 490,1240 390,1210 C320,1190 250,1185 190,1185 L190,995 L478,995 L478,0 Z" transform="translate(298.94,94.80) scale(0.00459,-0.00459)" fill="#000"/>
<text x="304.17" y="94.80" font-size="9.4" font-weight="bold">0</text>
<text x="318.60" y="117.15" font-size="7.2" font-weight="bold" text-anchor="end" >&#8722;3</text>
<path d="M770,0 L770,1409 L580,1409 C550,1300 490,1240 390,1210 C320,1190 250,1185 190,1185 L190,995 L478,995 L478,0 Z" transform="translate(298.94,123.60) scale(0.00459,-0.00459)" fill="#000"/>
<text x="304.17" y="123.60" font-size="9.4" font-weight="bold">0</text>
<path d="M770,0 L770,1409 L580,1409 C550,1300 490,1240 390,1210 C320,1190 250,1185 190,1185 L190,995 L478,995 L478,0 Z" transform="translate(318.62,155.50) scale(0.00488,-0.00488)" fill="#000"/>
<path d="M770,0 L770,1409 L580,1409 C550,1300 490,1240 390,1210 C320,1190 250,1185 190,1185 L190,995 L478,995 L478,0 Z" transform="translate(372.24,155.50) scale(0.00488,-0.00488)" fill="#000"/>
<text x="377.80" y="155.50" font-size="10" font-weight="bold">0</text>
<path d="M770,0 L770,1409 L580,1409 C550,1300 490,1240 390,1210 C320,1190 250,1185 190,1185 L190,995 L478,995 L478,0 Z" transform="translate(384.80,151.90) scale(0.00342,-0.00342)" fill="#000"/>
<path d="M770,0 L770,1409 L580,1409 C550,1300 490,1240 390,1210 C320,1190 250,1185 190,1185 L190,995 L478,995 L478,0 Z" transform="translate(423.64,155.50) scale(0.00488,-0.00488)" fill="#000"/>
<text x="429.20" y="155.50" font-size="10" font-weight="bold">0</text>
<text x="436.00" y="151.90" font-size="7" font-weight="bold" text-anchor="start" >2</text>
</g>
<g>
<clipPath id="clipb338"><rect x="458.50" y="32.50" width="113.00" height="111.40"/></clipPath>
<g clip-path="url(#clipb338)">
<path d="M458.50,40.50 L464.40,44.10 L471.40,48.75 L476.10,53.40 L480.80,58.70 L486.60,64.00 L492.50,68.70 L498.40,73.90 L500.30,80.00 L502.30,85.30 L507.00,88.00 L511.00,90.00 L514.90,92.60 L515.60,97.30 L516.30,102.60 L516.90,122.50 L518.30,110.60 L519.60,99.90 L521.60,105.20 L526.90,111.90 L528.90,114.00 L529.30,143.90 L531.00,114.40 L532.00,143.90 L533.00,115.00 L534.00,143.90 L536.40,110.00 L537.20,143.90 L538.40,122.90 L539.90,114.40 L540.80,143.90 L541.90,124.90 L542.50,143.90" fill="none" stroke="#000" stroke-width="1.45" stroke-linejoin="round" />
<path d="M547.30,143.90 L547.80,121.90 L548.30,143.90" fill="none" stroke="#000" stroke-width="1.3" stroke-linejoin="round" />
<path d="M558.80,143.90 L559.30,121.90 L559.80,143.90" fill="none" stroke="#000" stroke-width="1.3" stroke-linejoin="round" />
<path d="M458.48,43.60 L459.36,44.01 L460.26,44.41 L461.16,44.81 L462.07,45.21 L462.98,45.61 L463.90,46.01 L464.83,46.41 L465.75,46.81 L466.68,47.22 L467.61,47.63 L468.54,48.04 L469.47,48.46 L470.40,48.89 L471.32,49.32 L472.24,49.76 L473.16,50.20 L474.07,50.66 L474.98,51.12 L475.88,51.59 L476.77,52.07 L477.66,52.57 L478.54,53.07 L479.42,53.58 L480.28,54.10 L481.14,54.63 L481.98,55.17 L482.82,55.73 L483.65,56.29 L484.47,56.87 L485.28,57.46 L486.08,58.06 L486.87,58.67 L487.64,59.29 L488.41,59.93 L489.17,60.57 L489.91,61.23 L490.65,61.90 L491.37,62.58 L492.08,63.27 L492.79,63.97 L493.48,64.68 L494.16,65.40 L494.83,66.14 L495.49,66.88 L496.14,67.64 L496.78,68.40 L497.40,69.17 L498.02,69.95 L498.63,70.75 L499.23,71.55 L499.82,72.36 L500.40,73.17 L500.97,74.00 L501.53,74.83 L502.08,75.67 L502.62,76.52 L503.16,77.37 L503.69,78.23 L504.21,79.10 L504.72,79.97 L505.23,80.85 L505.72,81.73 L506.22,82.62 L506.70,83.51 L507.18,84.40 L507.65,85.30 L508.12,86.20 L508.58,87.11 L509.04,88.02 L509.49,88.93 L509.94,89.84 L510.38,90.76 L510.82,91.67 L511.26,92.59 L511.69,93.51 L512.12,94.43 L512.54,95.35 L512.96,96.27 L513.38,97.20 L513.80,98.12 L514.21,99.04 L514.63,99.96 L515.04,100.88 L515.44,101.80 L515.85,102.72 L516.25,103.64 L516.65,104.56 L517.06,105.48 L517.45,106.39 L517.85,107.31 L518.25,108.22 L518.64,109.14 L519.03,110.05 L519.42,110.96 L519.81,111.88 L520.20,112.79 L520.58,113.70 L520.97,114.61 L521.35,115.53 L521.72,116.44 L522.10,117.35 L522.47,118.27 L522.84,119.19 L523.20,120.11 L523.56,121.03 L523.91,121.95 L524.27,122.88 L524.61,123.81 L524.95,124.75 L525.28,125.69 L525.61,126.64 L525.92,127.60 L526.23,128.56 L526.53,129.53 L526.82,130.51 L527.10,131.50 L527.37,132.50 L527.63,133.52 L527.87,134.54 L528.10,135.58" fill="none" stroke="#e0271c" stroke-width="1.8" stroke-linejoin="round" />
<path d="M458.50,34.70 L555.00,143.40" fill="none" stroke="#000" stroke-width="1.5" stroke-dasharray="4.4 3.0" stroke-linejoin="round" />
</g>
<rect x="458.50" y="32.50" width="113.00" height="111.40" fill="none" stroke="#262626" stroke-width="1.35"/>
<line x1="475.51" y1="32.50" x2="475.51" y2="33.50" stroke="#000" stroke-width="0.8" />
<line x1="485.46" y1="32.50" x2="485.46" y2="33.50" stroke="#000" stroke-width="0.8" />
<line x1="492.52" y1="32.50" x2="492.52" y2="33.50" stroke="#000" stroke-width="0.8" />
<line x1="497.99" y1="32.50" x2="497.99" y2="33.50" stroke="#000" stroke-width="0.8" />
<line x1="502.47" y1="32.50" x2="502.47" y2="33.50" stroke="#000" stroke-width="0.8" />
<line x1="506.25" y1="32.50" x2="506.25" y2="33.50" stroke="#000" stroke-width="0.8" />
<line x1="509.52" y1="32.50" x2="509.52" y2="33.50" stroke="#000" stroke-width="0.8" />
<line x1="512.41" y1="32.50" x2="512.41" y2="33.50" stroke="#000" stroke-width="0.8" />
<line x1="515.00" y1="143.90" x2="515.00" y2="142.10" stroke="#000" stroke-width="0.9" />
<line x1="515.00" y1="32.50" x2="515.00" y2="34.30" stroke="#000" stroke-width="0.8" />
<line x1="532.01" y1="32.50" x2="532.01" y2="33.50" stroke="#000" stroke-width="0.8" />
<line x1="541.96" y1="32.50" x2="541.96" y2="33.50" stroke="#000" stroke-width="0.8" />
<line x1="549.02" y1="32.50" x2="549.02" y2="33.50" stroke="#000" stroke-width="0.8" />
<line x1="554.49" y1="32.50" x2="554.49" y2="33.50" stroke="#000" stroke-width="0.8" />
<line x1="558.97" y1="32.50" x2="558.97" y2="33.50" stroke="#000" stroke-width="0.8" />
<line x1="562.75" y1="32.50" x2="562.75" y2="33.50" stroke="#000" stroke-width="0.8" />
<line x1="566.02" y1="32.50" x2="566.02" y2="33.50" stroke="#000" stroke-width="0.8" />
<line x1="568.91" y1="32.50" x2="568.91" y2="33.50" stroke="#000" stroke-width="0.8" />
<line x1="458.50" y1="33.95" x2="460.30" y2="33.95" stroke="#000" stroke-width="0.9" />
<line x1="571.50" y1="33.95" x2="569.70" y2="33.95" stroke="#000" stroke-width="0.9" />
<line x1="458.50" y1="62.30" x2="460.30" y2="62.30" stroke="#000" stroke-width="0.9" />
<line x1="571.50" y1="62.30" x2="569.70" y2="62.30" stroke="#000" stroke-width="0.9" />
<line x1="458.50" y1="90.65" x2="460.30" y2="90.65" stroke="#000" stroke-width="0.9" />
<line x1="571.50" y1="90.65" x2="569.70" y2="90.65" stroke="#000" stroke-width="0.9" />
<line x1="458.50" y1="119.00" x2="460.30" y2="119.00" stroke="#000" stroke-width="0.9" />
<line x1="571.50" y1="119.00" x2="569.70" y2="119.00" stroke="#000" stroke-width="0.9" />
<path d="M770,0 L770,1409 L580,1409 C550,1300 490,1240 390,1210 C320,1190 250,1185 190,1185 L190,995 L478,995 L478,0 Z" transform="translate(450.74,37.70) scale(0.00488,-0.00488)" fill="#000"/>
<text x="448.09" y="59.45" font-size="7.2" font-weight="bold">&#8722;</text>
<path d="M770,0 L770,1409 L580,1409 C550,1300 490,1240 390,1210 C320,1190 250,1185 190,1185 L190,995 L478,995 L478,0 Z" transform="translate(452.30,59.45) scale(0.00352,-0.00352)" fill="#000"/>
<path d="M770,0 L770,1409 L580,1409 C550,1300 490,1240 390,1210 C320,1190 250,1185 190,1185 L190,995 L478,995 L478,0 Z" transform="translate(436.64,65.90) scale(0.00459,-0.00459)" fill="#000"/>
<text x="441.87" y="65.90" font-size="9.4" font-weight="bold">0</text>
<text x="456.30" y="88.35" font-size="7.2" font-weight="bold" text-anchor="end" >&#8722;2</text>
<path d="M770,0 L770,1409 L580,1409 C550,1300 490,1240 390,1210 C320,1190 250,1185 190,1185 L190,995 L478,995 L478,0 Z" transform="translate(436.64,94.80) scale(0.00459,-0.00459)" fill="#000"/>
<text x="441.87" y="94.80" font-size="9.4" font-weight="bold">0</text>
<text x="456.30" y="117.15" font-size="7.2" font-weight="bold" text-anchor="end" >&#8722;3</text>
<path d="M770,0 L770,1409 L580,1409 C550,1300 490,1240 390,1210 C320,1190 250,1185 190,1185 L190,995 L478,995 L478,0 Z" transform="translate(436.64,123.60) scale(0.00459,-0.00459)" fill="#000"/>
<text x="441.87" y="123.60" font-size="9.4" font-weight="bold">0</text>
<path d="M770,0 L770,1409 L580,1409 C550,1300 490,1240 390,1210 C320,1190 250,1185 190,1185 L190,995 L478,995 L478,0 Z" transform="translate(455.72,155.50) scale(0.00488,-0.00488)" fill="#000"/>
<path d="M770,0 L770,1409 L580,1409 C550,1300 490,1240 390,1210 C320,1190 250,1185 190,1185 L190,995 L478,995 L478,0 Z" transform="translate(509.34,155.50) scale(0.00488,-0.00488)" fill="#000"/>
<text x="514.90" y="155.50" font-size="10" font-weight="bold">0</text>
<path d="M770,0 L770,1409 L580,1409 C550,1300 490,1240 390,1210 C320,1190 250,1185 190,1185 L190,995 L478,995 L478,0 Z" transform="translate(521.90,151.90) scale(0.00342,-0.00342)" fill="#000"/>
<path d="M770,0 L770,1409 L580,1409 C550,1300 490,1240 390,1210 C320,1190 250,1185 190,1185 L190,995 L478,995 L478,0 Z" transform="translate(560.74,155.50) scale(0.00488,-0.00488)" fill="#000"/>
<text x="566.30" y="155.50" font-size="10" font-weight="bold">0</text>
<text x="573.10" y="151.90" font-size="7" font-weight="bold" text-anchor="start" >2</text>
</g>
<g>
<clipPath id="clipb393"><rect x="321.50" y="201.00" width="112.20" height="111.50"/></clipPath>
<g clip-path="url(#clipb393)">
<path d="M321.50,206.50 L329.70,213.00 L336.75,219.40 L343.80,226.50 L350.80,233.50 L356.70,241.50 L360.90,247.40 L365.40,254.80 L369.80,259.30 L372.80,262.30 L374.30,279.30 L375.80,274.10 L377.30,266.00 L380.20,268.20 L382.50,271.90 L384.70,274.90 L386.20,272.70 L387.70,281.60 L389.90,286.00 L390.80,288.00 L391.70,312.50 L392.60,289.80 L393.40,312.50 L394.20,292.00 L395.00,312.50 L396.60,290.70 L397.50,312.50 L398.40,290.20 L399.30,312.50 L400.20,290.70 L401.10,312.50 L402.00,292.00 L402.90,290.70 L403.80,312.50" fill="none" stroke="#000" stroke-width="1.45" stroke-linejoin="round" />
<path d="M393.80,312.50 L394.60,300.00 L395.60,312.50" fill="none" stroke="#000" stroke-width="1.3" stroke-linejoin="round" />
<path d="M397.90,312.50 L398.80,296.00 L399.70,312.50" fill="none" stroke="#000" stroke-width="1.3" stroke-linejoin="round" />
<path d="M321.43,209.64 L322.36,210.00 L323.29,210.37 L324.21,210.74 L325.14,211.13 L326.06,211.52 L326.98,211.93 L327.90,212.34 L328.81,212.76 L329.72,213.19 L330.62,213.63 L331.52,214.08 L332.42,214.54 L333.31,215.01 L334.19,215.49 L335.07,215.98 L335.94,216.48 L336.81,217.00 L337.66,217.52 L338.52,218.05 L339.36,218.59 L340.20,219.14 L341.03,219.70 L341.85,220.27 L342.66,220.85 L343.47,221.44 L344.27,222.04 L345.06,222.66 L345.84,223.28 L346.61,223.91 L347.37,224.55 L348.13,225.20 L348.88,225.86 L349.61,226.53 L350.34,227.20 L351.06,227.89 L351.77,228.59 L352.48,229.29 L353.17,230.01 L353.85,230.73 L354.53,231.46 L355.19,232.20 L355.85,232.95 L356.50,233.71 L357.14,234.47 L357.77,235.24 L358.39,236.02 L359.00,236.81 L359.60,237.60 L360.20,238.40 L360.78,239.21 L361.36,240.03 L361.93,240.85 L362.49,241.68 L363.05,242.51 L363.59,243.35 L364.13,244.20 L364.66,245.05 L365.18,245.90 L365.69,246.77 L366.20,247.63 L366.70,248.50 L367.19,249.38 L367.67,250.26 L368.15,251.15 L368.62,252.04 L369.08,252.93 L369.54,253.83 L369.99,254.73 L370.43,255.63 L370.87,256.54 L371.30,257.45 L371.73,258.36 L372.15,259.28 L372.56,260.20 L372.97,261.12 L373.38,262.04 L373.77,262.96 L374.17,263.89 L374.55,264.82 L374.94,265.75 L375.32,266.68 L375.69,267.62 L376.06,268.55 L376.43,269.49 L376.79,270.42 L377.14,271.36 L377.50,272.30 L377.85,273.24 L378.19,274.18 L378.53,275.12 L378.87,276.06 L379.21,277.00 L379.54,277.94 L379.87,278.89 L380.19,279.83 L380.51,280.77 L380.83,281.71 L381.15,282.66 L381.46,283.60 L381.77,284.55 L382.08,285.49 L382.38,286.44 L382.68,287.38 L382.98,288.33 L383.28,289.27 L383.57,290.22 L383.86,291.17 L384.15,292.12 L384.43,293.07 L384.72,294.02 L384.99,294.97 L385.27,295.92 L385.54,296.88 L385.81,297.83 L386.08,298.79 L386.34,299.75 L386.60,300.71 L386.86,301.68 L387.11,302.64 L387.36,303.61 L387.60,304.59 L387.84,305.57 L388.08,306.55 L388.31,307.53 L388.54,308.52 L388.76,309.52 L388.97,310.52 L389.18,311.53 L389.39,312.54" fill="none" stroke="#e0271c" stroke-width="1.8" stroke-linejoin="round" />
<path d="M322.10,201.90 L413.60,312.50" fill="none" stroke="#000" stroke-width="1.5" stroke-dasharray="4.4 3.0" stroke-linejoin="round" />
</g>
<rect x="321.50" y="201.00" width="112.20" height="111.50" fill="none" stroke="#262626" stroke-width="1.35"/>
<line x1="338.39" y1="201.00" x2="338.39" y2="202.00" stroke="#000" stroke-width="0.8" />
<line x1="348.27" y1="201.00" x2="348.27" y2="202.00" stroke="#000" stroke-width="0.8" />
<line x1="355.28" y1="201.00" x2="355.28" y2="202.00" stroke="#000" stroke-width="0.8" />
<line x1="360.71" y1="201.00" x2="360.71" y2="202.00" stroke="#000" stroke-width="0.8" />
<line x1="365.15" y1="201.00" x2="365.15" y2="202.00" stroke="#000" stroke-width="0.8" />
<line x1="368.91" y1="201.00" x2="368.91" y2="202.00" stroke="#000" stroke-width="0.8" />
<line x1="372.16" y1="201.00" x2="372.16" y2="202.00" stroke="#000" stroke-width="0.8" />
<line x1="375.03" y1="201.00" x2="375.03" y2="202.00" stroke="#000" stroke-width="0.8" />
<line x1="377.60" y1="312.50" x2="377.60" y2="310.70" stroke="#000" stroke-width="0.9" />
<line x1="377.60" y1="201.00" x2="377.60" y2="202.80" stroke="#000" stroke-width="0.8" />
<line x1="394.49" y1="201.00" x2="394.49" y2="202.00" stroke="#000" stroke-width="0.8" />
<line x1="404.37" y1="201.00" x2="404.37" y2="202.00" stroke="#000" stroke-width="0.8" />
<line x1="411.38" y1="201.00" x2="411.38" y2="202.00" stroke="#000" stroke-width="0.8" />
<line x1="416.81" y1="201.00" x2="416.81" y2="202.00" stroke="#000" stroke-width="0.8" />
<line x1="421.25" y1="201.00" x2="421.25" y2="202.00" stroke="#000" stroke-width="0.8" />
<line x1="425.01" y1="201.00" x2="425.01" y2="202.00" stroke="#000" stroke-width="0.8" />
<line x1="428.26" y1="201.00" x2="428.26" y2="202.00" stroke="#000" stroke-width="0.8" />
<line x1="431.13" y1="201.00" x2="431.13" y2="202.00" stroke="#000" stroke-width="0.8" />
<line x1="321.50" y1="228.27" x2="323.30" y2="228.27" stroke="#000" stroke-width="0.9" />
<line x1="433.70" y1="228.27" x2="431.90" y2="228.27" stroke="#000" stroke-width="0.9" />
<line x1="321.50" y1="255.35" x2="323.30" y2="255.35" stroke="#000" stroke-width="0.9" />
<line x1="433.70" y1="255.35" x2="431.90" y2="255.35" stroke="#000" stroke-width="0.9" />
<line x1="321.50" y1="282.43" x2="323.30" y2="282.43" stroke="#000" stroke-width="0.9" />
<line x1="433.70" y1="282.43" x2="431.90" y2="282.43" stroke="#000" stroke-width="0.9" />
<line x1="321.50" y1="309.50" x2="323.30" y2="309.50" stroke="#000" stroke-width="0.9" />
<line x1="433.70" y1="309.50" x2="431.90" y2="309.50" stroke="#000" stroke-width="0.9" />
<path d="M770,0 L770,1409 L580,1409 C550,1300 490,1240 390,1210 C320,1190 250,1185 190,1185 L190,995 L478,995 L478,0 Z" transform="translate(314.04,205.60) scale(0.00488,-0.00488)" fill="#000"/>
<text x="311.39" y="225.95" font-size="7.2" font-weight="bold">&#8722;</text>
<path d="M770,0 L770,1409 L580,1409 C550,1300 490,1240 390,1210 C320,1190 250,1185 190,1185 L190,995 L478,995 L478,0 Z" transform="translate(315.60,225.95) scale(0.00352,-0.00352)" fill="#000"/>
<path d="M770,0 L770,1409 L580,1409 C550,1300 490,1240 390,1210 C320,1190 250,1185 190,1185 L190,995 L478,995 L478,0 Z" transform="translate(299.94,232.40) scale(0.00459,-0.00459)" fill="#000"/>
<text x="305.17" y="232.40" font-size="9.4" font-weight="bold">0</text>
<text x="319.60" y="254.25" font-size="7.2" font-weight="bold" text-anchor="end" >&#8722;2</text>
<path d="M770,0 L770,1409 L580,1409 C550,1300 490,1240 390,1210 C320,1190 250,1185 190,1185 L190,995 L478,995 L478,0 Z" transform="translate(299.94,260.70) scale(0.00459,-0.00459)" fill="#000"/>
<text x="305.17" y="260.70" font-size="9.4" font-weight="bold">0</text>
<text x="319.60" y="283.45" font-size="7.2" font-weight="bold" text-anchor="end" >&#8722;3</text>
<path d="M770,0 L770,1409 L580,1409 C550,1300 490,1240 390,1210 C320,1190 250,1185 190,1185 L190,995 L478,995 L478,0 Z" transform="translate(299.94,289.90) scale(0.00459,-0.00459)" fill="#000"/>
<text x="305.17" y="289.90" font-size="9.4" font-weight="bold">0</text>
<text x="319.60" y="306.35" font-size="7.2" font-weight="bold" text-anchor="end" >&#8722;4</text>
<path d="M770,0 L770,1409 L580,1409 C550,1300 490,1240 390,1210 C320,1190 250,1185 190,1185 L190,995 L478,995 L478,0 Z" transform="translate(299.94,312.80) scale(0.00459,-0.00459)" fill="#000"/>
<text x="305.17" y="312.80" font-size="9.4" font-weight="bold">0</text>
<path d="M770,0 L770,1409 L580,1409 C550,1300 490,1240 390,1210 C320,1190 250,1185 190,1185 L190,995 L478,995 L478,0 Z" transform="translate(318.72,325.60) scale(0.00488,-0.00488)" fill="#000"/>
<path d="M770,0 L770,1409 L580,1409 C550,1300 490,1240 390,1210 C320,1190 250,1185 190,1185 L190,995 L478,995 L478,0 Z" transform="translate(372.34,325.60) scale(0.00488,-0.00488)" fill="#000"/>
<text x="377.90" y="325.60" font-size="10" font-weight="bold">0</text>
<path d="M770,0 L770,1409 L580,1409 C550,1300 490,1240 390,1210 C320,1190 250,1185 190,1185 L190,995 L478,995 L478,0 Z" transform="translate(384.90,322.00) scale(0.00342,-0.00342)" fill="#000"/>
<path d="M770,0 L770,1409 L580,1409 C550,1300 490,1240 390,1210 C320,1190 250,1185 190,1185 L190,995 L478,995 L478,0 Z" transform="translate(423.74,325.60) scale(0.00488,-0.00488)" fill="#000"/>
<text x="429.30" y="325.60" font-size="10" font-weight="bold">0</text>
<text x="436.10" y="322.00" font-size="7" font-weight="bold" text-anchor="start" >2</text>
</g>
<g>
<clipPath id="clipb451"><rect x="458.80" y="201.20" width="112.80" height="111.30"/></clipPath>
<g clip-path="url(#clipb451)">
<path d="M458.80,209.70 L465.90,213.80 L474.10,219.90 L479.60,224.70 L485.10,231.50 L491.90,236.30 L498.80,243.50 L502.00,248.70 L506.50,251.50 L511.30,253.40 L514.20,253.00 L515.20,251.40 L517.90,259.50 L518.70,264.50 L521.00,263.00 L524.70,269.70 L526.90,279.30 L530.60,271.90 L533.60,280.80 L535.10,279.30 L536.60,292.00 L536.70,312.50" fill="none" stroke="#000" stroke-width="1.45" stroke-linejoin="round" />
<path d="M560.00,312.50 L560.50,291.60 L561.00,312.50" fill="none" stroke="#000" stroke-width="1.3" stroke-linejoin="round" />
<path d="M563.60,312.50 L564.10,291.60 L564.60,312.50" fill="none" stroke="#000" stroke-width="1.3" stroke-linejoin="round" />
<path d="M538.40,312.50 L538.90,284.40 L540.30,289.80 L541.60,291.60 L542.80,290.40 L543.60,292.40 L545.20,291.00 L546.40,292.60 L548.00,291.00 L549.30,291.60 L551.50,284.40 L552.40,312.50 Z" fill="#000" stroke="#000" stroke-width="0.8" stroke-linejoin="round" />
<path d="M458.77,212.16 L459.72,212.50 L460.66,212.86 L461.59,213.22 L462.53,213.59 L463.46,213.97 L464.39,214.35 L465.32,214.75 L466.25,215.16 L467.17,215.57 L468.08,215.99 L469.00,216.43 L469.91,216.87 L470.81,217.32 L471.71,217.78 L472.60,218.25 L473.49,218.73 L474.38,219.22 L475.25,219.72 L476.13,220.23 L476.99,220.74 L477.85,221.27 L478.71,221.80 L479.55,222.35 L480.39,222.90 L481.23,223.47 L482.06,224.04 L482.88,224.62 L483.69,225.21 L484.50,225.81 L485.30,226.42 L486.09,227.04 L486.88,227.67 L487.66,228.30 L488.43,228.95 L489.19,229.60 L489.94,230.26 L490.69,230.93 L491.43,231.61 L492.17,232.30 L492.89,232.99 L493.61,233.70 L494.32,234.41 L495.02,235.13 L495.71,235.85 L496.40,236.59 L497.08,237.33 L497.75,238.07 L498.41,238.83 L499.07,239.59 L499.72,240.36 L500.36,241.14 L500.99,241.92 L501.62,242.71 L502.23,243.50 L502.84,244.30 L503.45,245.11 L504.04,245.92 L504.63,246.74 L505.21,247.56 L505.78,248.39 L506.35,249.22 L506.91,250.06 L507.46,250.91 L508.00,251.76 L508.54,252.61 L509.07,253.47 L509.59,254.33 L510.11,255.20 L510.62,256.07 L511.12,256.94 L511.62,257.82 L512.11,258.70 L512.59,259.59 L513.07,260.48 L513.54,261.37 L514.01,262.27 L514.46,263.16 L514.92,264.07 L515.36,264.97 L515.80,265.88 L516.24,266.79 L516.67,267.70 L517.09,268.61 L517.51,269.53 L517.92,270.45 L518.32,271.37 L518.73,272.29 L519.12,273.21 L519.51,274.14 L519.90,275.07 L520.28,275.99 L520.65,276.93 L521.02,277.86 L521.38,278.79 L521.74,279.73 L522.10,280.66 L522.45,281.60 L522.79,282.54 L523.13,283.48 L523.47,284.42 L523.80,285.37 L524.13,286.31 L524.45,287.26 L524.76,288.21 L525.08,289.15 L525.38,290.10 L525.69,291.06 L525.99,292.01 L526.28,292.96 L526.57,293.92 L526.86,294.88 L527.14,295.84 L527.41,296.80 L527.68,297.76 L527.95,298.73 L528.21,299.70 L528.47,300.67 L528.73,301.64 L528.97,302.61 L529.22,303.59 L529.46,304.57 L529.69,305.56 L529.92,306.54 L530.14,307.53 L530.36,308.53 L530.58,309.53 L530.78,310.53 L530.99,311.54 L531.19,312.55" fill="none" stroke="#e0271c" stroke-width="1.8" stroke-linejoin="round" />
<path d="M460.50,202.20 L557.30,307.50" fill="none" stroke="#000" stroke-width="1.5" stroke-dasharray="4.4 3.0" stroke-linejoin="round" />
</g>
<rect x="458.80" y="201.20" width="112.80" height="111.30" fill="none" stroke="#262626" stroke-width="1.35"/>
<line x1="475.78" y1="201.20" x2="475.78" y2="202.20" stroke="#000" stroke-width="0.8" />
<line x1="485.71" y1="201.20" x2="485.71" y2="202.20" stroke="#000" stroke-width="0.8" />
<line x1="492.76" y1="201.20" x2="492.76" y2="202.20" stroke="#000" stroke-width="0.8" />
<line x1="498.22" y1="201.20" x2="498.22" y2="202.20" stroke="#000" stroke-width="0.8" />
<line x1="502.69" y1="201.20" x2="502.69" y2="202.20" stroke="#000" stroke-width="0.8" />
<line x1="506.46" y1="201.20" x2="506.46" y2="202.20" stroke="#000" stroke-width="0.8" />
<line x1="509.73" y1="201.20" x2="509.73" y2="202.20" stroke="#000" stroke-width="0.8" />
<line x1="512.62" y1="201.20" x2="512.62" y2="202.20" stroke="#000" stroke-width="0.8" />
<line x1="515.20" y1="312.50" x2="515.20" y2="310.70" stroke="#000" stroke-width="0.9" />
<line x1="515.20" y1="201.20" x2="515.20" y2="203.00" stroke="#000" stroke-width="0.8" />
<line x1="532.18" y1="201.20" x2="532.18" y2="202.20" stroke="#000" stroke-width="0.8" />
<line x1="542.11" y1="201.20" x2="542.11" y2="202.20" stroke="#000" stroke-width="0.8" />
<line x1="549.16" y1="201.20" x2="549.16" y2="202.20" stroke="#000" stroke-width="0.8" />
<line x1="554.62" y1="201.20" x2="554.62" y2="202.20" stroke="#000" stroke-width="0.8" />
<line x1="559.09" y1="201.20" x2="559.09" y2="202.20" stroke="#000" stroke-width="0.8" />
<line x1="562.86" y1="201.20" x2="562.86" y2="202.20" stroke="#000" stroke-width="0.8" />
<line x1="566.13" y1="201.20" x2="566.13" y2="202.20" stroke="#000" stroke-width="0.8" />
<line x1="569.02" y1="201.20" x2="569.02" y2="202.20" stroke="#000" stroke-width="0.8" />
<line x1="458.80" y1="229.90" x2="460.60" y2="229.90" stroke="#000" stroke-width="0.9" />
<line x1="571.60" y1="229.90" x2="569.80" y2="229.90" stroke="#000" stroke-width="0.9" />
<line x1="458.80" y1="258.20" x2="460.60" y2="258.20" stroke="#000" stroke-width="0.9" />
<line x1="571.60" y1="258.20" x2="569.80" y2="258.20" stroke="#000" stroke-width="0.9" />
<line x1="458.80" y1="286.50" x2="460.60" y2="286.50" stroke="#000" stroke-width="0.9" />
<line x1="571.60" y1="286.50" x2="569.80" y2="286.50" stroke="#000" stroke-width="0.9" />
<path d="M770,0 L770,1409 L580,1409 C550,1300 490,1240 390,1210 C320,1190 250,1185 190,1185 L190,995 L478,995 L478,0 Z" transform="translate(451.04,207.00) scale(0.00488,-0.00488)" fill="#000"/>
<text x="448.39" y="230.15" font-size="7.2" font-weight="bold">&#8722;</text>
<path d="M770,0 L770,1409 L580,1409 C550,1300 490,1240 390,1210 C320,1190 250,1185 190,1185 L190,995 L478,995 L478,0 Z" transform="translate(452.60,230.15) scale(0.00352,-0.00352)" fill="#000"/>
<path d="M770,0 L770,1409 L580,1409 C550,1300 490,1240 390,1210 C320,1190 250,1185 190,1185 L190,995 L478,995 L478,0 Z" transform="translate(436.94,236.60) scale(0.00459,-0.00459)" fill="#000"/>
<text x="442.17" y="236.60" font-size="9.4" font-weight="bold">0</text>
<text x="456.60" y="258.95" font-size="7.2" font-weight="bold" text-anchor="end" >&#8722;2</text>
<path d="M770,0 L770,1409 L580,1409 C550,1300 490,1240 390,1210 C320,1190 250,1185 190,1185 L190,995 L478,995 L478,0 Z" transform="translate(436.94,265.40) scale(0.00459,-0.00459)" fill="#000"/>
<text x="442.17" y="265.40" font-size="9.4" font-weight="bold">0</text>
<text x="456.60" y="288.25" font-size="7.2" font-weight="bold" text-anchor="end" >&#8722;3</text>
<path d="M770,0 L770,1409 L580,1409 C550,1300 490,1240 390,1210 C320,1190 250,1185 190,1185 L190,995 L478,995 L478,0 Z" transform="translate(436.94,294.70) scale(0.00459,-0.00459)" fill="#000"/>
<text x="442.17" y="294.70" font-size="9.4" font-weight="bold">0</text>
<path d="M770,0 L770,1409 L580,1409 C550,1300 490,1240 390,1210 C320,1190 250,1185 190,1185 L190,995 L478,995 L478,0 Z" transform="translate(456.02,325.60) scale(0.00488,-0.00488)" fill="#000"/>
<path d="M770,0 L770,1409 L580,1409 C550,1300 490,1240 390,1210 C320,1190 250,1185 190,1185 L190,995 L478,995 L478,0 Z" transform="translate(509.64,325.60) scale(0.00488,-0.00488)" fill="#000"/>
<text x="515.20" y="325.60" font-size="10" font-weight="bold">0</text>
<path d="M770,0 L770,1409 L580,1409 C550,1300 490,1240 390,1210 C320,1190 250,1185 190,1185 L190,995 L478,995 L478,0 Z" transform="translate(522.20,322.00) scale(0.00342,-0.00342)" fill="#000"/>
<path d="M770,0 L770,1409 L580,1409 C550,1300 490,1240 390,1210 C320,1190 250,1185 190,1185 L190,995 L478,995 L478,0 Z" transform="translate(561.04,325.60) scale(0.00488,-0.00488)" fill="#000"/>
<text x="566.60" y="325.60" font-size="10" font-weight="bold">0</text>
<text x="573.40" y="322.00" font-size="7" font-weight="bold" text-anchor="start" >2</text>
</g>
<g>
<clipPath id="clipb505"><rect x="321.60" y="366.60" width="111.80" height="111.80"/></clipPath>
<g clip-path="url(#clipb505)">
<path d="M321.60,370.90 L328.90,377.70 L337.10,385.90 L342.60,394.80 L348.10,404.40 L353.50,414.00 L356.30,416.90 L360.50,421.30 L364.50,427.60 L366.50,431.20 L370.50,439.50 L374.70,449.40 L376.80,456.40 L377.50,478.40 L379.60,452.20 L382.40,449.40 L385.20,450.70 L386.40,478.40 L388.40,458.00 L389.50,478.40 L390.50,460.00 L391.70,458.40 L392.50,466.00 L393.40,458.40 L394.30,478.40 L395.40,458.40 L396.50,463.00 L397.60,478.40 L399.10,458.90 L400.50,462.00 L402.40,450.70 L403.20,478.40" fill="none" stroke="#000" stroke-width="1.45" stroke-linejoin="round" />
<path d="M411.30,478.40 L411.80,458.40 L412.30,478.40" fill="none" stroke="#000" stroke-width="1.3" stroke-linejoin="round" />
<path d="M321.53,377.11 L322.47,377.47 L323.40,377.84 L324.34,378.22 L325.27,378.61 L326.20,379.00 L327.12,379.41 L328.05,379.82 L328.97,380.24 L329.88,380.67 L330.79,381.10 L331.70,381.55 L332.60,382.01 L333.50,382.47 L334.40,382.94 L335.28,383.43 L336.16,383.92 L337.04,384.42 L337.91,384.94 L338.77,385.46 L339.62,385.99 L340.47,386.53 L341.31,387.09 L342.15,387.65 L342.97,388.22 L343.79,388.80 L344.60,389.39 L345.41,389.99 L346.20,390.60 L346.99,391.22 L347.77,391.85 L348.54,392.49 L349.30,393.13 L350.06,393.79 L350.80,394.46 L351.54,395.13 L352.27,395.82 L352.99,396.51 L353.70,397.21 L354.40,397.92 L355.09,398.64 L355.78,399.37 L356.45,400.10 L357.12,400.85 L357.78,401.60 L358.43,402.36 L359.07,403.12 L359.70,403.90 L360.33,404.68 L360.94,405.47 L361.55,406.27 L362.15,407.07 L362.74,407.88 L363.32,408.70 L363.90,409.52 L364.46,410.35 L365.02,411.18 L365.57,412.02 L366.11,412.87 L366.65,413.72 L367.18,414.58 L367.70,415.44 L368.21,416.31 L368.71,417.18 L369.21,418.06 L369.70,418.94 L370.18,419.82 L370.66,420.71 L371.13,421.60 L371.59,422.50 L372.05,423.40 L372.50,424.30 L372.94,425.21 L373.38,426.12 L373.81,427.03 L374.24,427.94 L374.66,428.86 L375.07,429.78 L375.48,430.70 L375.89,431.63 L376.29,432.55 L376.68,433.48 L377.07,434.41 L377.45,435.34 L377.83,436.28 L378.20,437.21 L378.57,438.15 L378.94,439.08 L379.30,440.02 L379.66,440.96 L380.01,441.90 L380.36,442.84 L380.70,443.78 L381.04,444.72 L381.38,445.66 L381.71,446.61 L382.04,447.55 L382.37,448.49 L382.69,449.44 L383.01,450.38 L383.32,451.33 L383.64,452.28 L383.94,453.22 L384.25,454.17 L384.55,455.12 L384.85,456.07 L385.15,457.02 L385.44,457.97 L385.73,458.92 L386.02,459.88 L386.31,460.83 L386.59,461.79 L386.87,462.75 L387.14,463.71 L387.42,464.67 L387.68,465.63 L387.95,466.59 L388.21,467.56 L388.47,468.53 L388.73,469.51 L388.98,470.48 L389.23,471.46 L389.47,472.45 L389.72,473.43 L389.95,474.43 L390.19,475.42 L390.41,476.42 L390.64,477.43 L390.86,478.44" fill="none" stroke="#e0271c" stroke-width="1.8" stroke-linejoin="round" />
<path d="M322.10,390.00 L409.10,473.30" fill="none" stroke="#000" stroke-width="1.5" stroke-dasharray="4.4 3.0" stroke-linejoin="round" />
</g>
<rect x="321.60" y="366.60" width="111.80" height="111.80" fill="none" stroke="#262626" stroke-width="1.35"/>
<line x1="338.43" y1="366.60" x2="338.43" y2="367.60" stroke="#000" stroke-width="0.8" />
<line x1="348.27" y1="366.60" x2="348.27" y2="367.60" stroke="#000" stroke-width="0.8" />
<line x1="355.26" y1="366.60" x2="355.26" y2="367.60" stroke="#000" stroke-width="0.8" />
<line x1="360.67" y1="366.60" x2="360.67" y2="367.60" stroke="#000" stroke-width="0.8" />
<line x1="365.10" y1="366.60" x2="365.10" y2="367.60" stroke="#000" stroke-width="0.8" />
<line x1="368.84" y1="366.60" x2="368.84" y2="367.60" stroke="#000" stroke-width="0.8" />
<line x1="372.08" y1="366.60" x2="372.08" y2="367.60" stroke="#000" stroke-width="0.8" />
<line x1="374.94" y1="366.60" x2="374.94" y2="367.60" stroke="#000" stroke-width="0.8" />
<line x1="377.50" y1="478.40" x2="377.50" y2="476.60" stroke="#000" stroke-width="0.9" />
<line x1="377.50" y1="366.60" x2="377.50" y2="368.40" stroke="#000" stroke-width="0.8" />
<line x1="394.33" y1="366.60" x2="394.33" y2="367.60" stroke="#000" stroke-width="0.8" />
<line x1="404.17" y1="366.60" x2="404.17" y2="367.60" stroke="#000" stroke-width="0.8" />
<line x1="411.16" y1="366.60" x2="411.16" y2="367.60" stroke="#000" stroke-width="0.8" />
<line x1="416.57" y1="366.60" x2="416.57" y2="367.60" stroke="#000" stroke-width="0.8" />
<line x1="421.00" y1="366.60" x2="421.00" y2="367.60" stroke="#000" stroke-width="0.8" />
<line x1="424.74" y1="366.60" x2="424.74" y2="367.60" stroke="#000" stroke-width="0.8" />
<line x1="427.98" y1="366.60" x2="427.98" y2="367.60" stroke="#000" stroke-width="0.8" />
<line x1="430.84" y1="366.60" x2="430.84" y2="367.60" stroke="#000" stroke-width="0.8" />
<line x1="321.60" y1="368.10" x2="323.40" y2="368.10" stroke="#000" stroke-width="0.9" />
<line x1="433.40" y1="368.10" x2="431.60" y2="368.10" stroke="#000" stroke-width="0.9" />
<line x1="321.60" y1="396.70" x2="323.40" y2="396.70" stroke="#000" stroke-width="0.9" />
<line x1="433.40" y1="396.70" x2="431.60" y2="396.70" stroke="#000" stroke-width="0.9" />
<line x1="321.60" y1="425.30" x2="323.40" y2="425.30" stroke="#000" stroke-width="0.9" />
<line x1="433.40" y1="425.30" x2="431.60" y2="425.30" stroke="#000" stroke-width="0.9" />
<line x1="321.60" y1="453.90" x2="323.40" y2="453.90" stroke="#000" stroke-width="0.9" />
<line x1="433.40" y1="453.90" x2="431.60" y2="453.90" stroke="#000" stroke-width="0.9" />
<path d="M770,0 L770,1409 L580,1409 C550,1300 490,1240 390,1210 C320,1190 250,1185 190,1185 L190,995 L478,995 L478,0 Z" transform="translate(312.84,371.00) scale(0.00488,-0.00488)" fill="#000"/>
<text x="310.19" y="394.55" font-size="7.2" font-weight="bold">&#8722;</text>
<path d="M770,0 L770,1409 L580,1409 C550,1300 490,1240 390,1210 C320,1190 250,1185 190,1185 L190,995 L478,995 L478,0 Z" transform="translate(314.40,394.55) scale(0.00352,-0.00352)" fill="#000"/>
<path d="M770,0 L770,1409 L580,1409 C550,1300 490,1240 390,1210 C320,1190 250,1185 190,1185 L190,995 L478,995 L478,0 Z" transform="translate(298.74,401.00) scale(0.00459,-0.00459)" fill="#000"/>
<text x="303.97" y="401.00" font-size="9.4" font-weight="bold">0</text>
<text x="318.40" y="422.85" font-size="7.2" font-weight="bold" text-anchor="end" >&#8722;2</text>
<path d="M770,0 L770,1409 L580,1409 C550,1300 490,1240 390,1210 C320,1190 250,1185 190,1185 L190,995 L478,995 L478,0 Z" transform="translate(298.74,429.30) scale(0.00459,-0.00459)" fill="#000"/>
<text x="303.97" y="429.30" font-size="9.4" font-weight="bold">0</text>
<text x="318.40" y="451.65" font-size="7.2" font-weight="bold" text-anchor="end" >&#8722;3</text>
<path d="M770,0 L770,1409 L580,1409 C550,1300 490,1240 390,1210 C320,1190 250,1185 190,1185 L190,995 L478,995 L478,0 Z" transform="translate(298.74,458.10) scale(0.00459,-0.00459)" fill="#000"/>
<text x="303.97" y="458.10" font-size="9.4" font-weight="bold">0</text>
<path d="M770,0 L770,1409 L580,1409 C550,1300 490,1240 390,1210 C320,1190 250,1185 190,1185 L190,995 L478,995 L478,0 Z" transform="translate(318.82,492.50) scale(0.00488,-0.00488)" fill="#000"/>
<path d="M770,0 L770,1409 L580,1409 C550,1300 490,1240 390,1210 C320,1190 250,1185 190,1185 L190,995 L478,995 L478,0 Z" transform="translate(372.44,492.50) scale(0.00488,-0.00488)" fill="#000"/>
<text x="378.00" y="492.50" font-size="10" font-weight="bold">0</text>
<path d="M770,0 L770,1409 L580,1409 C550,1300 490,1240 390,1210 C320,1190 250,1185 190,1185 L190,995 L478,995 L478,0 Z" transform="translate(385.00,488.90) scale(0.00342,-0.00342)" fill="#000"/>
<path d="M770,0 L770,1409 L580,1409 C550,1300 490,1240 390,1210 C320,1190 250,1185 190,1185 L190,995 L478,995 L478,0 Z" transform="translate(423.84,492.50) scale(0.00488,-0.00488)" fill="#000"/>
<text x="429.40" y="492.50" font-size="10" font-weight="bold">0</text>
<text x="436.20" y="488.90" font-size="7" font-weight="bold" text-anchor="start" >2</text>
</g>
<g>
<clipPath id="clipb559"><rect x="459.30" y="366.90" width="112.30" height="111.50"/></clipPath>
<g clip-path="url(#clipb559)">
<path d="M459.30,373.80 L463.80,377.30 L468.50,381.20 L473.20,385.10 L476.30,387.80 L478.70,391.30 L481.80,396.80 L484.90,401.50 L487.80,405.00 L490.20,408.90 L494.10,412.00 L498.75,414.40 L501.90,418.30 L505.00,420.90 L509.10,425.00 L513.20,427.10 L515.20,427.70 L516.60,441.40 L518.70,435.90 L520.00,430.50 L522.70,432.50 L525.50,434.60 L527.50,433.20 L528.90,437.30 L530.90,442.80 L533.70,444.10 L535.00,441.40 L536.40,446.90 L538.40,449.60 L539.10,459.10 L540.50,446.90 L542.50,451.00 L543.90,459.10 L545.60,449.00 L547.00,452.00 L547.70,449.40 L548.30,478.40 L549.30,453.30 L551.10,453.80 L552.50,454.70 L553.40,478.40 L554.30,458.90 L555.20,478.40 L556.60,448.80 L557.50,459.30 L559.40,459.30 L561.70,459.80 L563.90,460.20 L564.90,473.50 L567.60,475.80" fill="none" stroke="#000" stroke-width="1.45" stroke-linejoin="round" />
<path d="M550.60,478.40 L551.00,460.00 L551.40,478.40" fill="none" stroke="#000" stroke-width="1.3" stroke-linejoin="round" />
<path d="M556.80,478.40 L557.50,459.30 L559.40,459.30 L561.70,459.80 L563.90,460.20 L564.60,478.40 Z" fill="#000" stroke="#000" stroke-width="0.8" stroke-linejoin="round" />
<path d="M459.31,380.09 L460.24,380.40 L461.18,380.71 L462.12,381.03 L463.06,381.35 L464.00,381.67 L464.95,382.00 L465.89,382.34 L466.84,382.68 L467.79,383.03 L468.73,383.38 L469.68,383.75 L470.62,384.12 L471.56,384.50 L472.50,384.88 L473.43,385.28 L474.36,385.68 L475.29,386.09 L476.21,386.51 L477.13,386.94 L478.04,387.38 L478.95,387.83 L479.85,388.29 L480.75,388.76 L481.64,389.24 L482.52,389.73 L483.40,390.23 L484.27,390.74 L485.14,391.26 L485.99,391.79 L486.84,392.33 L487.68,392.88 L488.51,393.44 L489.34,394.01 L490.15,394.59 L490.96,395.18 L491.76,395.79 L492.56,396.40 L493.34,397.02 L494.11,397.65 L494.88,398.30 L495.64,398.95 L496.39,399.61 L497.13,400.28 L497.86,400.96 L498.58,401.66 L499.29,402.36 L500.00,403.06 L500.70,403.78 L501.38,404.51 L502.06,405.24 L502.73,405.99 L503.39,406.74 L504.05,407.50 L504.69,408.27 L505.33,409.04 L505.96,409.83 L506.58,410.62 L507.19,411.42 L507.79,412.22 L508.39,413.03 L508.98,413.85 L509.56,414.67 L510.13,415.50 L510.70,416.34 L511.25,417.18 L511.81,418.03 L512.35,418.88 L512.89,419.74 L513.42,420.60 L513.94,421.47 L514.46,422.34 L514.97,423.21 L515.47,424.09 L515.97,424.98 L516.46,425.86 L516.94,426.75 L517.42,427.65 L517.90,428.54 L518.36,429.44 L518.83,430.35 L519.28,431.25 L519.74,432.16 L520.18,433.07 L520.62,433.98 L521.06,434.89 L521.49,435.80 L521.92,436.72 L522.34,437.64 L522.76,438.56 L523.18,439.48 L523.59,440.40 L523.99,441.32 L524.39,442.24 L524.79,443.17 L525.18,444.09 L525.57,445.02 L525.96,445.94 L526.34,446.87 L526.72,447.80 L527.09,448.73 L527.46,449.65 L527.83,450.58 L528.19,451.51 L528.55,452.45 L528.90,453.38 L529.25,454.31 L529.60,455.24 L529.94,456.18 L530.28,457.11 L530.61,458.05 L530.94,458.99 L531.27,459.93 L531.59,460.87 L531.90,461.82 L532.22,462.76 L532.52,463.71 L532.83,464.67 L533.12,465.62 L533.41,466.58 L533.70,467.54 L533.98,468.51 L534.25,469.48 L534.52,470.45 L534.78,471.43 L535.03,472.42 L535.28,473.41 L535.52,474.41 L535.75,475.41 L535.97,476.42 L536.18,477.44 L536.39,478.47" fill="none" stroke="#e0271c" stroke-width="1.8" stroke-linejoin="round" />
<path d="M459.30,380.80 L566.70,473.50" fill="none" stroke="#000" stroke-width="1.5" stroke-dasharray="4.4 3.0" stroke-linejoin="round" />
</g>
<rect x="459.30" y="366.90" width="112.30" height="111.50" fill="none" stroke="#262626" stroke-width="1.35"/>
<line x1="476.20" y1="366.90" x2="476.20" y2="367.90" stroke="#000" stroke-width="0.8" />
<line x1="486.09" y1="366.90" x2="486.09" y2="367.90" stroke="#000" stroke-width="0.8" />
<line x1="493.11" y1="366.90" x2="493.11" y2="367.90" stroke="#000" stroke-width="0.8" />
<line x1="498.55" y1="366.90" x2="498.55" y2="367.90" stroke="#000" stroke-width="0.8" />
<line x1="502.99" y1="366.90" x2="502.99" y2="367.90" stroke="#000" stroke-width="0.8" />
<line x1="506.75" y1="366.90" x2="506.75" y2="367.90" stroke="#000" stroke-width="0.8" />
<line x1="510.01" y1="366.90" x2="510.01" y2="367.90" stroke="#000" stroke-width="0.8" />
<line x1="512.88" y1="366.90" x2="512.88" y2="367.90" stroke="#000" stroke-width="0.8" />
<line x1="515.45" y1="478.40" x2="515.45" y2="476.60" stroke="#000" stroke-width="0.9" />
<line x1="515.45" y1="366.90" x2="515.45" y2="368.70" stroke="#000" stroke-width="0.8" />
<line x1="532.35" y1="366.90" x2="532.35" y2="367.90" stroke="#000" stroke-width="0.8" />
<line x1="542.24" y1="366.90" x2="542.24" y2="367.90" stroke="#000" stroke-width="0.8" />
<line x1="549.26" y1="366.90" x2="549.26" y2="367.90" stroke="#000" stroke-width="0.8" />
<line x1="554.70" y1="366.90" x2="554.70" y2="367.90" stroke="#000" stroke-width="0.8" />
<line x1="559.14" y1="366.90" x2="559.14" y2="367.90" stroke="#000" stroke-width="0.8" />
<line x1="562.90" y1="366.90" x2="562.90" y2="367.90" stroke="#000" stroke-width="0.8" />
<line x1="566.16" y1="366.90" x2="566.16" y2="367.90" stroke="#000" stroke-width="0.8" />
<line x1="569.03" y1="366.90" x2="569.03" y2="367.90" stroke="#000" stroke-width="0.8" />
<line x1="459.30" y1="395.40" x2="461.10" y2="395.40" stroke="#000" stroke-width="0.9" />
<line x1="571.60" y1="395.40" x2="569.80" y2="395.40" stroke="#000" stroke-width="0.9" />
<line x1="459.30" y1="424.30" x2="461.10" y2="424.30" stroke="#000" stroke-width="0.9" />
<line x1="571.60" y1="424.30" x2="569.80" y2="424.30" stroke="#000" stroke-width="0.9" />
<line x1="459.30" y1="453.20" x2="461.10" y2="453.20" stroke="#000" stroke-width="0.9" />
<line x1="571.60" y1="453.20" x2="569.80" y2="453.20" stroke="#000" stroke-width="0.9" />
<path d="M770,0 L770,1409 L580,1409 C550,1300 490,1240 390,1210 C320,1190 250,1185 190,1185 L190,995 L478,995 L478,0 Z" transform="translate(451.24,371.00) scale(0.00488,-0.00488)" fill="#000"/>
<text x="448.59" y="394.65" font-size="7.2" font-weight="bold">&#8722;</text>
<path d="M770,0 L770,1409 L580,1409 C550,1300 490,1240 390,1210 C320,1190 250,1185 190,1185 L190,995 L478,995 L478,0 Z" transform="translate(452.80,394.65) scale(0.00352,-0.00352)" fill="#000"/>
<path d="M770,0 L770,1409 L580,1409 C550,1300 490,1240 390,1210 C320,1190 250,1185 190,1185 L190,995 L478,995 L478,0 Z" transform="translate(437.14,401.10) scale(0.00459,-0.00459)" fill="#000"/>
<text x="442.37" y="401.10" font-size="9.4" font-weight="bold">0</text>
<text x="456.80" y="423.05" font-size="7.2" font-weight="bold" text-anchor="end" >&#8722;2</text>
<path d="M770,0 L770,1409 L580,1409 C550,1300 490,1240 390,1210 C320,1190 250,1185 190,1185 L190,995 L478,995 L478,0 Z" transform="translate(437.14,429.50) scale(0.00459,-0.00459)" fill="#000"/>
<text x="442.37" y="429.50" font-size="9.4" font-weight="bold">0</text>
<text x="456.80" y="451.25" font-size="7.2" font-weight="bold" text-anchor="end" >&#8722;3</text>
<path d="M770,0 L770,1409 L580,1409 C550,1300 490,1240 390,1210 C320,1190 250,1185 190,1185 L190,995 L478,995 L478,0 Z" transform="translate(437.14,457.70) scale(0.00459,-0.00459)" fill="#000"/>
<text x="442.37" y="457.70" font-size="9.4" font-weight="bold">0</text>
<path d="M770,0 L770,1409 L580,1409 C550,1300 490,1240 390,1210 C320,1190 250,1185 190,1185 L190,995 L478,995 L478,0 Z" transform="translate(456.52,492.50) scale(0.00488,-0.00488)" fill="#000"/>
<path d="M770,0 L770,1409 L580,1409 C550,1300 490,1240 390,1210 C320,1190 250,1185 190,1185 L190,995 L478,995 L478,0 Z" transform="translate(510.14,492.50) scale(0.00488,-0.00488)" fill="#000"/>
<text x="515.70" y="492.50" font-size="10" font-weight="bold">0</text>
<path d="M770,0 L770,1409 L580,1409 C550,1300 490,1240 390,1210 C320,1190 250,1185 190,1185 L190,995 L478,995 L478,0 Z" transform="translate(522.70,488.90) scale(0.00342,-0.00342)" fill="#000"/>
<path d="M770,0 L770,1409 L580,1409 C550,1300 490,1240 390,1210 C320,1190 250,1185 190,1185 L190,995 L478,995 L478,0 Z" transform="translate(561.54,492.50) scale(0.00488,-0.00488)" fill="#000"/>
<text x="567.10" y="492.50" font-size="10" font-weight="bold">0</text>
<text x="573.90" y="488.90" font-size="7" font-weight="bold" text-anchor="start" >2</text>
</g>
<rect x="622.3" y="136.00" width="26.5" height="8.20" fill="#000"/>
<rect x="654.2" y="115.00" width="26.6" height="29.20" fill="#000"/>
<line x1="619.60" y1="32.70" x2="619.60" y2="144.80" stroke="#111" stroke-width="1.3" />
<line x1="619.00" y1="144.20" x2="683.00" y2="144.20" stroke="#111" stroke-width="1.25" />
<line x1="619.60" y1="32.70" x2="621.20" y2="32.70" stroke="#000" stroke-width="1" />
<line x1="619.60" y1="88.45" x2="621.20" y2="88.45" stroke="#000" stroke-width="1" />
<path d="M770,0 L770,1409 L580,1409 C550,1300 490,1240 390,1210 C320,1190 250,1185 190,1185 L190,995 L478,995 L478,0 Z" transform="translate(611.04,36.20) scale(0.00488,-0.00488)" fill="#000"/>
<text x="616.60" y="91.95" font-size="10" font-weight="bold" text-anchor="end" >0.5</text>
<text x="616.60" y="147.70" font-size="10" font-weight="bold" text-anchor="end" >0</text>
<text x="637.40" y="158.30" font-size="9.6" font-weight="bold" text-anchor="middle" >PRE</text>
<text x="670.80" y="158.30" font-size="9.6" font-weight="bold" text-anchor="middle" >POST</text>
<rect x="622.3" y="309.90" width="26.5" height="2.70" fill="#000"/>
<rect x="654.2" y="270.90" width="26.6" height="41.70" fill="#000"/>
<line x1="619.60" y1="200.80" x2="619.60" y2="313.20" stroke="#111" stroke-width="1.3" />
<line x1="619.00" y1="312.60" x2="683.00" y2="312.60" stroke="#111" stroke-width="1.25" />
<line x1="619.60" y1="200.80" x2="621.20" y2="200.80" stroke="#000" stroke-width="1" />
<line x1="619.60" y1="256.70" x2="621.20" y2="256.70" stroke="#000" stroke-width="1" />
<path d="M770,0 L770,1409 L580,1409 C550,1300 490,1240 390,1210 C320,1190 250,1185 190,1185 L190,995 L478,995 L478,0 Z" transform="translate(611.04,204.30) scale(0.00488,-0.00488)" fill="#000"/>
<text x="616.60" y="260.20" font-size="10" font-weight="bold" text-anchor="end" >0.5</text>
<text x="616.60" y="316.10" font-size="10" font-weight="bold" text-anchor="end" >0</text>
<text x="637.40" y="326.60" font-size="9.6" font-weight="bold" text-anchor="middle" >PRE</text>
<text x="670.80" y="326.60" font-size="9.6" font-weight="bold" text-anchor="middle" >POST</text>
<rect x="622.3" y="460.30" width="26.5" height="17.90" fill="#000"/>
<rect x="654.2" y="381.30" width="26.6" height="96.90" fill="#000"/>
<line x1="619.60" y1="367.00" x2="619.60" y2="478.80" stroke="#111" stroke-width="1.3" />
<line x1="619.00" y1="478.20" x2="683.00" y2="478.20" stroke="#111" stroke-width="1.25" />
<line x1="619.60" y1="367.00" x2="621.20" y2="367.00" stroke="#000" stroke-width="1" />
<line x1="619.60" y1="422.60" x2="621.20" y2="422.60" stroke="#000" stroke-width="1" />
<path d="M770,0 L770,1409 L580,1409 C550,1300 490,1240 390,1210 C320,1190 250,1185 190,1185 L190,995 L478,995 L478,0 Z" transform="translate(611.04,370.50) scale(0.00488,-0.00488)" fill="#000"/>
<text x="616.60" y="426.10" font-size="10" font-weight="bold" text-anchor="end" >0.5</text>
<text x="616.60" y="481.70" font-size="10" font-weight="bold" text-anchor="end" >0</text>
<text x="637.40" y="492.00" font-size="9.6" font-weight="bold" text-anchor="middle" >PRE</text>
<text x="670.80" y="492.00" font-size="9.6" font-weight="bold" text-anchor="middle" >POST</text>
</svg>
</body></html>
